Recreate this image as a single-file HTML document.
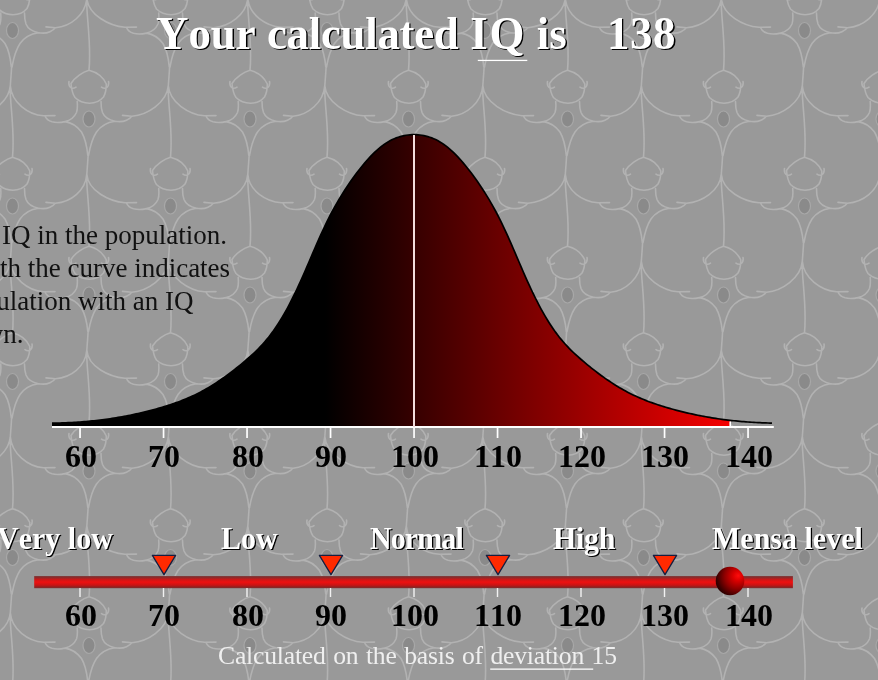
<!DOCTYPE html>
<html><head><meta charset="utf-8"><title>IQ</title>
<style>
html,body{margin:0;padding:0}
body{width:878px;height:680px;overflow:hidden;position:relative;background:#999;font-family:"Liberation Serif",serif;font-kerning:none;font-variant-ligatures:none}
div{will-change:transform}
svg{position:absolute;left:0;top:0}
.t{position:absolute;white-space:nowrap;font-weight:bold;color:#fff;text-shadow:1.3px 1.3px 0 #000}
.title{font-size:44.9px;top:7.6px;line-height:52px;transform:scaleY(1.04);transform-origin:0 41.2px}
.lab{font-size:30px;top:520.9px;line-height:36px;transform:scaleY(1.067);transform-origin:0 28px}
.n{position:absolute;width:80px;text-align:center;font-weight:bold;font-size:32px;line-height:34px;color:#000;white-space:nowrap}
.p{position:absolute;white-space:nowrap;font-size:27px;line-height:34px;color:#111}
.c{position:absolute;white-space:nowrap;font-size:25.65px;line-height:30px;color:#efefef;word-spacing:1.3px;letter-spacing:-0.2px}
</style></head><body>
<svg width="878" height="680" viewBox="0 0 878 680">
<defs>
<linearGradient id="g" gradientUnits="userSpaceOnUse" x1="325" y1="0" x2="731" y2="0"><stop offset="0" stop-color="#000"/><stop offset="1" stop-color="#f60000"/></linearGradient>
<linearGradient id="bar" x1="0" y1="0" x2="0" y2="1"><stop offset="0" stop-color="#7c4040"/><stop offset="0.12" stop-color="#8e2a2a"/><stop offset="0.28" stop-color="#c81818"/><stop offset="0.5" stop-color="#ee1010"/><stop offset="0.75" stop-color="#c81414"/><stop offset="0.9" stop-color="#922020"/><stop offset="1" stop-color="#7a3030"/></linearGradient>
<radialGradient id="ball" cx="0.72" cy="0.36" r="0.8" fx="0.79" fy="0.31"><stop offset="0" stop-color="#ff0c0c"/><stop offset="0.22" stop-color="#da0000"/><stop offset="0.55" stop-color="#8e0000"/><stop offset="0.85" stop-color="#3c0000"/><stop offset="1" stop-color="#1e0000"/></radialGradient>
</defs>
<g><path d="M12.5,-18.2C6.5,-16.5 -1.5,-11.5 -5.5,-5.0C-5.0,0.5 -4.0,5.5 -1.5,9.0C2.5,13.0 7.5,14.7 13.0,14.7C18.5,14.7 23.5,12.7 27.0,8.5C29.0,5.0 29.8,0.5 29.8,-4.5C26.5,-11.5 19.5,-16.5 12.5,-18.2M-7.5,-7.0C-8.0,-4.0 -7.0,-1.5 -5.0,-0.5C-3.5,0.0 -2.0,-0.3 -0.5,-1.3M32.0,-7.0C32.5,-4.0 31.5,-1.5 29.5,-0.5C28.0,0.0 26.5,-0.3 25.0,-1.3M0.7,13.0C1.0,17.5 1.3,20.5 0.0,24.0C-2.5,29.5 -6.5,32.0 -11.5,33.1C-15.5,34.0 -20.5,34.3 -24.5,33.3C-28.0,32.3 -30.5,30.0 -31.5,27.5M24.5,13.0C24.5,17.5 24.7,20.5 26.0,24.0C28.0,29.0 32.5,31.5 38.5,32.7C42.5,33.5 46.5,33.3 50.0,31.7C52.5,30.5 54.3,29.3 55.1,27.9M-11.5,33.1C-5.5,34.0 0.5,37.5 5.0,43.5C8.5,49.5 10.5,58.5 11.3,67.0M38.5,32.7C31.5,33.7 24.5,37.0 20.0,43.5C16.0,49.5 13.5,58.5 12.0,67.0M11.6,66.5C11.3,74.5 10.5,81.5 10.2,88.0C10.0,105.5 15.0,131.0 12.5,157.3M46.0,26.9L55.5,27.7C70.5,26.5 85.6,15.0 86.8,-2.0M-21.5,27.1L-33.0,27.3C-48.5,26.0 -70.0,15.0 -71.2,-2.0M170.5,-18.2C164.5,-16.5 156.5,-11.5 152.5,-5.0C153.0,0.5 154.0,5.5 156.5,9.0C160.5,13.0 165.5,14.7 171.0,14.7C176.5,14.7 181.5,12.7 185.0,8.5C187.0,5.0 187.8,0.5 187.8,-4.5C184.5,-11.5 177.5,-16.5 170.5,-18.2M150.5,-7.0C150.0,-4.0 151.0,-1.5 153.0,-0.5C154.5,0.0 156.0,-0.3 157.5,-1.3M190.0,-7.0C190.5,-4.0 189.5,-1.5 187.5,-0.5C186.0,0.0 184.5,-0.3 183.0,-1.3M158.7,13.0C159.0,17.5 159.3,20.5 158.0,24.0C155.5,29.5 151.5,32.0 146.5,33.1C142.5,34.0 137.5,34.3 133.5,33.3C130.0,32.3 127.5,30.0 126.5,27.5M182.5,13.0C182.5,17.5 182.7,20.5 184.0,24.0C186.0,29.0 190.5,31.5 196.5,32.7C200.5,33.5 204.5,33.3 208.0,31.7C210.5,30.5 212.3,29.3 213.1,27.9M146.5,33.1C152.5,34.0 158.5,37.5 163.0,43.5C166.5,49.5 168.5,58.5 169.3,67.0M196.5,32.7C189.5,33.7 182.5,37.0 178.0,43.5C174.0,49.5 171.5,58.5 170.0,67.0M169.6,66.5C169.3,74.5 168.5,81.5 168.2,88.0C168.0,105.5 173.0,131.0 170.5,157.3M204.0,26.9L213.5,27.7C228.5,26.5 246.6,15.0 247.8,-2.0M136.5,27.1L125.0,27.3C109.5,26.0 88.0,15.0 86.8,-2.0M327.0,-18.2C321.0,-16.5 313.0,-11.5 309.0,-5.0C309.5,0.5 310.5,5.5 313.0,9.0C317.0,13.0 322.0,14.7 327.5,14.7C333.0,14.7 338.0,12.7 341.5,8.5C343.5,5.0 344.3,0.5 344.3,-4.5C341.0,-11.5 334.0,-16.5 327.0,-18.2M307.0,-7.0C306.5,-4.0 307.5,-1.5 309.5,-0.5C311.0,0.0 312.5,-0.3 314.0,-1.3M346.5,-7.0C347.0,-4.0 346.0,-1.5 344.0,-0.5C342.5,0.0 341.0,-0.3 339.5,-1.3M315.2,13.0C315.5,17.5 315.8,20.5 314.5,24.0C312.0,29.5 308.0,32.0 303.0,33.1C299.0,34.0 294.0,34.3 290.0,33.3C286.5,32.3 284.0,30.0 283.0,27.5M339.0,13.0C339.0,17.5 339.2,20.5 340.5,24.0C342.5,29.0 347.0,31.5 353.0,32.7C357.0,33.5 361.0,33.3 364.5,31.7C367.0,30.5 368.8,29.3 369.6,27.9M303.0,33.1C309.0,34.0 315.0,37.5 319.5,43.5C323.0,49.5 325.0,58.5 325.8,67.0M353.0,32.7C346.0,33.7 339.0,37.0 334.5,43.5C330.5,49.5 328.0,58.5 326.5,67.0M326.1,66.5C325.8,74.5 325.0,81.5 324.7,88.0C324.5,105.5 329.5,131.0 327.0,157.3M360.5,26.9L370.0,27.7C385.0,26.5 405.1,15.0 406.3,-2.0M293.0,27.1L281.5,27.3C266.0,26.0 249.0,15.0 247.8,-2.0M485.0,-18.2C479.0,-16.5 471.0,-11.5 467.0,-5.0C467.5,0.5 468.5,5.5 471.0,9.0C475.0,13.0 480.0,14.7 485.5,14.7C491.0,14.7 496.0,12.7 499.5,8.5C501.5,5.0 502.3,0.5 502.3,-4.5C499.0,-11.5 492.0,-16.5 485.0,-18.2M465.0,-7.0C464.5,-4.0 465.5,-1.5 467.5,-0.5C469.0,0.0 470.5,-0.3 472.0,-1.3M504.5,-7.0C505.0,-4.0 504.0,-1.5 502.0,-0.5C500.5,0.0 499.0,-0.3 497.5,-1.3M473.2,13.0C473.5,17.5 473.8,20.5 472.5,24.0C470.0,29.5 466.0,32.0 461.0,33.1C457.0,34.0 452.0,34.3 448.0,33.3C444.5,32.3 442.0,30.0 441.0,27.5M497.0,13.0C497.0,17.5 497.2,20.5 498.5,24.0C500.5,29.0 505.0,31.5 511.0,32.7C515.0,33.5 519.0,33.3 522.5,31.7C525.0,30.5 526.8,29.3 527.6,27.9M461.0,33.1C467.0,34.0 473.0,37.5 477.5,43.5C481.0,49.5 483.0,58.5 483.8,67.0M511.0,32.7C504.0,33.7 497.0,37.0 492.5,43.5C488.5,49.5 486.0,58.5 484.5,67.0M484.1,66.5C483.8,74.5 483.0,81.5 482.7,88.0C482.5,105.5 487.5,131.0 485.0,157.3M518.5,26.9L528.0,27.7C543.0,26.5 564.1,15.0 565.3,-2.0M451.0,27.1L439.5,27.3C424.0,26.0 407.5,15.0 406.3,-2.0M643.5,-18.2C637.5,-16.5 629.5,-11.5 625.5,-5.0C626.0,0.5 627.0,5.5 629.5,9.0C633.5,13.0 638.5,14.7 644.0,14.7C649.5,14.7 654.5,12.7 658.0,8.5C660.0,5.0 660.8,0.5 660.8,-4.5C657.5,-11.5 650.5,-16.5 643.5,-18.2M623.5,-7.0C623.0,-4.0 624.0,-1.5 626.0,-0.5C627.5,0.0 629.0,-0.3 630.5,-1.3M663.0,-7.0C663.5,-4.0 662.5,-1.5 660.5,-0.5C659.0,0.0 657.5,-0.3 656.0,-1.3M631.7,13.0C632.0,17.5 632.3,20.5 631.0,24.0C628.5,29.5 624.5,32.0 619.5,33.1C615.5,34.0 610.5,34.3 606.5,33.3C603.0,32.3 600.5,30.0 599.5,27.5M655.5,13.0C655.5,17.5 655.7,20.5 657.0,24.0C659.0,29.0 663.5,31.5 669.5,32.7C673.5,33.5 677.5,33.3 681.0,31.7C683.5,30.5 685.3,29.3 686.1,27.9M619.5,33.1C625.5,34.0 631.5,37.5 636.0,43.5C639.5,49.5 641.5,58.5 642.3,67.0M669.5,32.7C662.5,33.7 655.5,37.0 651.0,43.5C647.0,49.5 644.5,58.5 643.0,67.0M642.6,66.5C642.3,74.5 641.5,81.5 641.2,88.0C641.0,105.5 646.0,131.0 643.5,157.3M677.0,26.9L686.5,27.7C701.5,26.5 720.1,15.0 721.3,-2.0M609.5,27.1L598.0,27.3C582.5,26.0 566.5,15.0 565.3,-2.0M804.5,-18.2C798.5,-16.5 790.5,-11.5 786.5,-5.0C787.0,0.5 788.0,5.5 790.5,9.0C794.5,13.0 799.5,14.7 805.0,14.7C810.5,14.7 815.5,12.7 819.0,8.5C821.0,5.0 821.8,0.5 821.8,-4.5C818.5,-11.5 811.5,-16.5 804.5,-18.2M784.5,-7.0C784.0,-4.0 785.0,-1.5 787.0,-0.5C788.5,0.0 790.0,-0.3 791.5,-1.3M824.0,-7.0C824.5,-4.0 823.5,-1.5 821.5,-0.5C820.0,0.0 818.5,-0.3 817.0,-1.3M792.7,13.0C793.0,17.5 793.3,20.5 792.0,24.0C789.5,29.5 785.5,32.0 780.5,33.1C776.5,34.0 771.5,34.3 767.5,33.3C764.0,32.3 761.5,30.0 760.5,27.5M816.5,13.0C816.5,17.5 816.7,20.5 818.0,24.0C820.0,29.0 824.5,31.5 830.5,32.7C834.5,33.5 838.5,33.3 842.0,31.7C844.5,30.5 846.3,29.3 847.1,27.9M780.5,33.1C786.5,34.0 792.5,37.5 797.0,43.5C800.5,49.5 802.5,58.5 803.3,67.0M830.5,32.7C823.5,33.7 816.5,37.0 812.0,43.5C808.0,49.5 805.5,58.5 804.0,67.0M803.6,66.5C803.3,74.5 802.5,81.5 802.2,88.0C802.0,105.5 807.0,131.0 804.5,157.3M838.0,26.9L847.5,27.7C862.5,26.5 878.6,15.0 879.8,-2.0M770.5,27.1L759.0,27.3C743.5,26.0 722.5,15.0 721.3,-2.0M963.0,-18.2C957.0,-16.5 949.0,-11.5 945.0,-5.0C945.5,0.5 946.5,5.5 949.0,9.0C953.0,13.0 958.0,14.7 963.5,14.7C969.0,14.7 974.0,12.7 977.5,8.5C979.5,5.0 980.3,0.5 980.3,-4.5C977.0,-11.5 970.0,-16.5 963.0,-18.2M943.0,-7.0C942.5,-4.0 943.5,-1.5 945.5,-0.5C947.0,0.0 948.5,-0.3 950.0,-1.3M982.5,-7.0C983.0,-4.0 982.0,-1.5 980.0,-0.5C978.5,0.0 977.0,-0.3 975.5,-1.3M951.2,13.0C951.5,17.5 951.8,20.5 950.5,24.0C948.0,29.5 944.0,32.0 939.0,33.1C935.0,34.0 930.0,34.3 926.0,33.3C922.5,32.3 920.0,30.0 919.0,27.5M975.0,13.0C975.0,17.5 975.2,20.5 976.5,24.0C978.5,29.0 983.0,31.5 989.0,32.7C993.0,33.5 997.0,33.3 1000.5,31.7C1003.0,30.5 1004.8,29.3 1005.6,27.9M939.0,33.1C945.0,34.0 951.0,37.5 955.5,43.5C959.0,49.5 961.0,58.5 961.8,67.0M989.0,32.7C982.0,33.7 975.0,37.0 970.5,43.5C966.5,49.5 964.0,58.5 962.5,67.0M962.1,66.5C961.8,74.5 961.0,81.5 960.7,88.0C960.5,105.5 965.5,131.0 963.0,157.3M996.5,26.9L1006.0,27.7C1021.0,26.5 1037.6,15.0 1038.8,-2.0M929.0,27.1L917.5,27.3C902.0,26.0 881.0,15.0 879.8,-2.0M12.5,157.3C6.5,159.0 -1.5,164.0 -5.5,170.5C-5.0,176.0 -4.0,181.0 -1.5,184.5C2.5,188.5 7.5,190.2 13.0,190.2C18.5,190.2 23.5,188.2 27.0,184.0C29.0,180.5 29.8,176.0 29.8,171.0C26.5,164.0 19.5,159.0 12.5,157.3M-7.5,168.5C-8.0,171.5 -7.0,174.0 -5.0,175.0C-3.5,175.5 -2.0,175.2 -0.5,174.2M32.0,168.5C32.5,171.5 31.5,174.0 29.5,175.0C28.0,175.5 26.5,175.2 25.0,174.2M0.7,188.5C1.0,193.0 1.3,196.0 0.0,199.5C-2.5,205.0 -6.5,207.5 -11.5,208.6C-15.5,209.5 -20.5,209.8 -24.5,208.8C-28.0,207.8 -30.5,205.5 -31.5,203.0M24.5,188.5C24.5,193.0 24.7,196.0 26.0,199.5C28.0,204.5 32.5,207.0 38.5,208.2C42.5,209.0 46.5,208.8 50.0,207.2C52.5,206.0 54.3,204.8 55.1,203.4M-11.5,208.6C-5.5,209.5 0.5,213.0 5.0,219.0C8.5,225.0 10.5,234.0 11.3,242.5M38.5,208.2C31.5,209.2 24.5,212.5 20.0,219.0C16.0,225.0 13.5,234.0 12.0,242.5M11.6,242.0C11.3,250.0 10.5,257.0 10.2,263.5C10.0,281.0 15.0,306.5 12.5,332.8M46.0,202.4L55.5,203.2C70.5,202.0 85.6,191.0 86.8,174.0M-21.5,202.6L-33.0,202.8C-48.5,201.5 -70.0,191.0 -71.2,174.0M170.5,157.3C164.5,159.0 156.5,164.0 152.5,170.5C153.0,176.0 154.0,181.0 156.5,184.5C160.5,188.5 165.5,190.2 171.0,190.2C176.5,190.2 181.5,188.2 185.0,184.0C187.0,180.5 187.8,176.0 187.8,171.0C184.5,164.0 177.5,159.0 170.5,157.3M150.5,168.5C150.0,171.5 151.0,174.0 153.0,175.0C154.5,175.5 156.0,175.2 157.5,174.2M190.0,168.5C190.5,171.5 189.5,174.0 187.5,175.0C186.0,175.5 184.5,175.2 183.0,174.2M158.7,188.5C159.0,193.0 159.3,196.0 158.0,199.5C155.5,205.0 151.5,207.5 146.5,208.6C142.5,209.5 137.5,209.8 133.5,208.8C130.0,207.8 127.5,205.5 126.5,203.0M182.5,188.5C182.5,193.0 182.7,196.0 184.0,199.5C186.0,204.5 190.5,207.0 196.5,208.2C200.5,209.0 204.5,208.8 208.0,207.2C210.5,206.0 212.3,204.8 213.1,203.4M146.5,208.6C152.5,209.5 158.5,213.0 163.0,219.0C166.5,225.0 168.5,234.0 169.3,242.5M196.5,208.2C189.5,209.2 182.5,212.5 178.0,219.0C174.0,225.0 171.5,234.0 170.0,242.5M169.6,242.0C169.3,250.0 168.5,257.0 168.2,263.5C168.0,281.0 173.0,306.5 170.5,332.8M204.0,202.4L213.5,203.2C228.5,202.0 246.6,191.0 247.8,174.0M136.5,202.6L125.0,202.8C109.5,201.5 88.0,191.0 86.8,174.0M327.0,157.3C321.0,159.0 313.0,164.0 309.0,170.5C309.5,176.0 310.5,181.0 313.0,184.5C317.0,188.5 322.0,190.2 327.5,190.2C333.0,190.2 338.0,188.2 341.5,184.0C343.5,180.5 344.3,176.0 344.3,171.0C341.0,164.0 334.0,159.0 327.0,157.3M307.0,168.5C306.5,171.5 307.5,174.0 309.5,175.0C311.0,175.5 312.5,175.2 314.0,174.2M346.5,168.5C347.0,171.5 346.0,174.0 344.0,175.0C342.5,175.5 341.0,175.2 339.5,174.2M315.2,188.5C315.5,193.0 315.8,196.0 314.5,199.5C312.0,205.0 308.0,207.5 303.0,208.6C299.0,209.5 294.0,209.8 290.0,208.8C286.5,207.8 284.0,205.5 283.0,203.0M339.0,188.5C339.0,193.0 339.2,196.0 340.5,199.5C342.5,204.5 347.0,207.0 353.0,208.2C357.0,209.0 361.0,208.8 364.5,207.2C367.0,206.0 368.8,204.8 369.6,203.4M303.0,208.6C309.0,209.5 315.0,213.0 319.5,219.0C323.0,225.0 325.0,234.0 325.8,242.5M353.0,208.2C346.0,209.2 339.0,212.5 334.5,219.0C330.5,225.0 328.0,234.0 326.5,242.5M326.1,242.0C325.8,250.0 325.0,257.0 324.7,263.5C324.5,281.0 329.5,306.5 327.0,332.8M360.5,202.4L370.0,203.2C385.0,202.0 405.1,191.0 406.3,174.0M293.0,202.6L281.5,202.8C266.0,201.5 249.0,191.0 247.8,174.0M485.0,157.3C479.0,159.0 471.0,164.0 467.0,170.5C467.5,176.0 468.5,181.0 471.0,184.5C475.0,188.5 480.0,190.2 485.5,190.2C491.0,190.2 496.0,188.2 499.5,184.0C501.5,180.5 502.3,176.0 502.3,171.0C499.0,164.0 492.0,159.0 485.0,157.3M465.0,168.5C464.5,171.5 465.5,174.0 467.5,175.0C469.0,175.5 470.5,175.2 472.0,174.2M504.5,168.5C505.0,171.5 504.0,174.0 502.0,175.0C500.5,175.5 499.0,175.2 497.5,174.2M473.2,188.5C473.5,193.0 473.8,196.0 472.5,199.5C470.0,205.0 466.0,207.5 461.0,208.6C457.0,209.5 452.0,209.8 448.0,208.8C444.5,207.8 442.0,205.5 441.0,203.0M497.0,188.5C497.0,193.0 497.2,196.0 498.5,199.5C500.5,204.5 505.0,207.0 511.0,208.2C515.0,209.0 519.0,208.8 522.5,207.2C525.0,206.0 526.8,204.8 527.6,203.4M461.0,208.6C467.0,209.5 473.0,213.0 477.5,219.0C481.0,225.0 483.0,234.0 483.8,242.5M511.0,208.2C504.0,209.2 497.0,212.5 492.5,219.0C488.5,225.0 486.0,234.0 484.5,242.5M484.1,242.0C483.8,250.0 483.0,257.0 482.7,263.5C482.5,281.0 487.5,306.5 485.0,332.8M518.5,202.4L528.0,203.2C543.0,202.0 564.1,191.0 565.3,174.0M451.0,202.6L439.5,202.8C424.0,201.5 407.5,191.0 406.3,174.0M643.5,157.3C637.5,159.0 629.5,164.0 625.5,170.5C626.0,176.0 627.0,181.0 629.5,184.5C633.5,188.5 638.5,190.2 644.0,190.2C649.5,190.2 654.5,188.2 658.0,184.0C660.0,180.5 660.8,176.0 660.8,171.0C657.5,164.0 650.5,159.0 643.5,157.3M623.5,168.5C623.0,171.5 624.0,174.0 626.0,175.0C627.5,175.5 629.0,175.2 630.5,174.2M663.0,168.5C663.5,171.5 662.5,174.0 660.5,175.0C659.0,175.5 657.5,175.2 656.0,174.2M631.7,188.5C632.0,193.0 632.3,196.0 631.0,199.5C628.5,205.0 624.5,207.5 619.5,208.6C615.5,209.5 610.5,209.8 606.5,208.8C603.0,207.8 600.5,205.5 599.5,203.0M655.5,188.5C655.5,193.0 655.7,196.0 657.0,199.5C659.0,204.5 663.5,207.0 669.5,208.2C673.5,209.0 677.5,208.8 681.0,207.2C683.5,206.0 685.3,204.8 686.1,203.4M619.5,208.6C625.5,209.5 631.5,213.0 636.0,219.0C639.5,225.0 641.5,234.0 642.3,242.5M669.5,208.2C662.5,209.2 655.5,212.5 651.0,219.0C647.0,225.0 644.5,234.0 643.0,242.5M642.6,242.0C642.3,250.0 641.5,257.0 641.2,263.5C641.0,281.0 646.0,306.5 643.5,332.8M677.0,202.4L686.5,203.2C701.5,202.0 720.1,191.0 721.3,174.0M609.5,202.6L598.0,202.8C582.5,201.5 566.5,191.0 565.3,174.0M804.5,157.3C798.5,159.0 790.5,164.0 786.5,170.5C787.0,176.0 788.0,181.0 790.5,184.5C794.5,188.5 799.5,190.2 805.0,190.2C810.5,190.2 815.5,188.2 819.0,184.0C821.0,180.5 821.8,176.0 821.8,171.0C818.5,164.0 811.5,159.0 804.5,157.3M784.5,168.5C784.0,171.5 785.0,174.0 787.0,175.0C788.5,175.5 790.0,175.2 791.5,174.2M824.0,168.5C824.5,171.5 823.5,174.0 821.5,175.0C820.0,175.5 818.5,175.2 817.0,174.2M792.7,188.5C793.0,193.0 793.3,196.0 792.0,199.5C789.5,205.0 785.5,207.5 780.5,208.6C776.5,209.5 771.5,209.8 767.5,208.8C764.0,207.8 761.5,205.5 760.5,203.0M816.5,188.5C816.5,193.0 816.7,196.0 818.0,199.5C820.0,204.5 824.5,207.0 830.5,208.2C834.5,209.0 838.5,208.8 842.0,207.2C844.5,206.0 846.3,204.8 847.1,203.4M780.5,208.6C786.5,209.5 792.5,213.0 797.0,219.0C800.5,225.0 802.5,234.0 803.3,242.5M830.5,208.2C823.5,209.2 816.5,212.5 812.0,219.0C808.0,225.0 805.5,234.0 804.0,242.5M803.6,242.0C803.3,250.0 802.5,257.0 802.2,263.5C802.0,281.0 807.0,306.5 804.5,332.8M838.0,202.4L847.5,203.2C862.5,202.0 878.6,191.0 879.8,174.0M770.5,202.6L759.0,202.8C743.5,201.5 722.5,191.0 721.3,174.0M963.0,157.3C957.0,159.0 949.0,164.0 945.0,170.5C945.5,176.0 946.5,181.0 949.0,184.5C953.0,188.5 958.0,190.2 963.5,190.2C969.0,190.2 974.0,188.2 977.5,184.0C979.5,180.5 980.3,176.0 980.3,171.0C977.0,164.0 970.0,159.0 963.0,157.3M943.0,168.5C942.5,171.5 943.5,174.0 945.5,175.0C947.0,175.5 948.5,175.2 950.0,174.2M982.5,168.5C983.0,171.5 982.0,174.0 980.0,175.0C978.5,175.5 977.0,175.2 975.5,174.2M951.2,188.5C951.5,193.0 951.8,196.0 950.5,199.5C948.0,205.0 944.0,207.5 939.0,208.6C935.0,209.5 930.0,209.8 926.0,208.8C922.5,207.8 920.0,205.5 919.0,203.0M975.0,188.5C975.0,193.0 975.2,196.0 976.5,199.5C978.5,204.5 983.0,207.0 989.0,208.2C993.0,209.0 997.0,208.8 1000.5,207.2C1003.0,206.0 1004.8,204.8 1005.6,203.4M939.0,208.6C945.0,209.5 951.0,213.0 955.5,219.0C959.0,225.0 961.0,234.0 961.8,242.5M989.0,208.2C982.0,209.2 975.0,212.5 970.5,219.0C966.5,225.0 964.0,234.0 962.5,242.5M962.1,242.0C961.8,250.0 961.0,257.0 960.7,263.5C960.5,281.0 965.5,306.5 963.0,332.8M996.5,202.4L1006.0,203.2C1021.0,202.0 1037.6,191.0 1038.8,174.0M929.0,202.6L917.5,202.8C902.0,201.5 881.0,191.0 879.8,174.0M12.5,332.8C6.5,334.5 -1.5,339.5 -5.5,346.0C-5.0,351.5 -4.0,356.5 -1.5,360.0C2.5,364.0 7.5,365.7 13.0,365.7C18.5,365.7 23.5,363.7 27.0,359.5C29.0,356.0 29.8,351.5 29.8,346.5C26.5,339.5 19.5,334.5 12.5,332.8M-7.5,344.0C-8.0,347.0 -7.0,349.5 -5.0,350.5C-3.5,351.0 -2.0,350.7 -0.5,349.7M32.0,344.0C32.5,347.0 31.5,349.5 29.5,350.5C28.0,351.0 26.5,350.7 25.0,349.7M0.7,364.0C1.0,368.5 1.3,371.5 0.0,375.0C-2.5,380.5 -6.5,383.0 -11.5,384.1C-15.5,385.0 -20.5,385.3 -24.5,384.3C-28.0,383.3 -30.5,381.0 -31.5,378.5M24.5,364.0C24.5,368.5 24.7,371.5 26.0,375.0C28.0,380.0 32.5,382.5 38.5,383.7C42.5,384.5 46.5,384.3 50.0,382.7C52.5,381.5 54.3,380.3 55.1,378.9M-11.5,384.1C-5.5,385.0 0.5,388.5 5.0,394.5C8.5,400.5 10.5,409.5 11.3,418.0M38.5,383.7C31.5,384.7 24.5,388.0 20.0,394.5C16.0,400.5 13.5,409.5 12.0,418.0M11.6,417.5C11.3,425.5 10.5,432.5 10.2,439.0C10.0,456.5 15.0,482.5 12.5,508.8M46.0,377.9L55.5,378.7C70.5,377.5 85.6,367.0 86.8,350.0M-21.5,378.1L-33.0,378.3C-48.5,377.0 -70.0,367.0 -71.2,350.0M170.5,332.8C164.5,334.5 156.5,339.5 152.5,346.0C153.0,351.5 154.0,356.5 156.5,360.0C160.5,364.0 165.5,365.7 171.0,365.7C176.5,365.7 181.5,363.7 185.0,359.5C187.0,356.0 187.8,351.5 187.8,346.5C184.5,339.5 177.5,334.5 170.5,332.8M150.5,344.0C150.0,347.0 151.0,349.5 153.0,350.5C154.5,351.0 156.0,350.7 157.5,349.7M190.0,344.0C190.5,347.0 189.5,349.5 187.5,350.5C186.0,351.0 184.5,350.7 183.0,349.7M158.7,364.0C159.0,368.5 159.3,371.5 158.0,375.0C155.5,380.5 151.5,383.0 146.5,384.1C142.5,385.0 137.5,385.3 133.5,384.3C130.0,383.3 127.5,381.0 126.5,378.5M182.5,364.0C182.5,368.5 182.7,371.5 184.0,375.0C186.0,380.0 190.5,382.5 196.5,383.7C200.5,384.5 204.5,384.3 208.0,382.7C210.5,381.5 212.3,380.3 213.1,378.9M146.5,384.1C152.5,385.0 158.5,388.5 163.0,394.5C166.5,400.5 168.5,409.5 169.3,418.0M196.5,383.7C189.5,384.7 182.5,388.0 178.0,394.5C174.0,400.5 171.5,409.5 170.0,418.0M169.6,417.5C169.3,425.5 168.5,432.5 168.2,439.0C168.0,456.5 173.0,482.5 170.5,508.8M204.0,377.9L213.5,378.7C228.5,377.5 246.6,367.0 247.8,350.0M136.5,378.1L125.0,378.3C109.5,377.0 88.0,367.0 86.8,350.0M327.0,332.8C321.0,334.5 313.0,339.5 309.0,346.0C309.5,351.5 310.5,356.5 313.0,360.0C317.0,364.0 322.0,365.7 327.5,365.7C333.0,365.7 338.0,363.7 341.5,359.5C343.5,356.0 344.3,351.5 344.3,346.5C341.0,339.5 334.0,334.5 327.0,332.8M307.0,344.0C306.5,347.0 307.5,349.5 309.5,350.5C311.0,351.0 312.5,350.7 314.0,349.7M346.5,344.0C347.0,347.0 346.0,349.5 344.0,350.5C342.5,351.0 341.0,350.7 339.5,349.7M315.2,364.0C315.5,368.5 315.8,371.5 314.5,375.0C312.0,380.5 308.0,383.0 303.0,384.1C299.0,385.0 294.0,385.3 290.0,384.3C286.5,383.3 284.0,381.0 283.0,378.5M339.0,364.0C339.0,368.5 339.2,371.5 340.5,375.0C342.5,380.0 347.0,382.5 353.0,383.7C357.0,384.5 361.0,384.3 364.5,382.7C367.0,381.5 368.8,380.3 369.6,378.9M303.0,384.1C309.0,385.0 315.0,388.5 319.5,394.5C323.0,400.5 325.0,409.5 325.8,418.0M353.0,383.7C346.0,384.7 339.0,388.0 334.5,394.5C330.5,400.5 328.0,409.5 326.5,418.0M326.1,417.5C325.8,425.5 325.0,432.5 324.7,439.0C324.5,456.5 329.5,482.5 327.0,508.8M360.5,377.9L370.0,378.7C385.0,377.5 405.1,367.0 406.3,350.0M293.0,378.1L281.5,378.3C266.0,377.0 249.0,367.0 247.8,350.0M485.0,332.8C479.0,334.5 471.0,339.5 467.0,346.0C467.5,351.5 468.5,356.5 471.0,360.0C475.0,364.0 480.0,365.7 485.5,365.7C491.0,365.7 496.0,363.7 499.5,359.5C501.5,356.0 502.3,351.5 502.3,346.5C499.0,339.5 492.0,334.5 485.0,332.8M465.0,344.0C464.5,347.0 465.5,349.5 467.5,350.5C469.0,351.0 470.5,350.7 472.0,349.7M504.5,344.0C505.0,347.0 504.0,349.5 502.0,350.5C500.5,351.0 499.0,350.7 497.5,349.7M473.2,364.0C473.5,368.5 473.8,371.5 472.5,375.0C470.0,380.5 466.0,383.0 461.0,384.1C457.0,385.0 452.0,385.3 448.0,384.3C444.5,383.3 442.0,381.0 441.0,378.5M497.0,364.0C497.0,368.5 497.2,371.5 498.5,375.0C500.5,380.0 505.0,382.5 511.0,383.7C515.0,384.5 519.0,384.3 522.5,382.7C525.0,381.5 526.8,380.3 527.6,378.9M461.0,384.1C467.0,385.0 473.0,388.5 477.5,394.5C481.0,400.5 483.0,409.5 483.8,418.0M511.0,383.7C504.0,384.7 497.0,388.0 492.5,394.5C488.5,400.5 486.0,409.5 484.5,418.0M484.1,417.5C483.8,425.5 483.0,432.5 482.7,439.0C482.5,456.5 487.5,482.5 485.0,508.8M518.5,377.9L528.0,378.7C543.0,377.5 564.1,367.0 565.3,350.0M451.0,378.1L439.5,378.3C424.0,377.0 407.5,367.0 406.3,350.0M643.5,332.8C637.5,334.5 629.5,339.5 625.5,346.0C626.0,351.5 627.0,356.5 629.5,360.0C633.5,364.0 638.5,365.7 644.0,365.7C649.5,365.7 654.5,363.7 658.0,359.5C660.0,356.0 660.8,351.5 660.8,346.5C657.5,339.5 650.5,334.5 643.5,332.8M623.5,344.0C623.0,347.0 624.0,349.5 626.0,350.5C627.5,351.0 629.0,350.7 630.5,349.7M663.0,344.0C663.5,347.0 662.5,349.5 660.5,350.5C659.0,351.0 657.5,350.7 656.0,349.7M631.7,364.0C632.0,368.5 632.3,371.5 631.0,375.0C628.5,380.5 624.5,383.0 619.5,384.1C615.5,385.0 610.5,385.3 606.5,384.3C603.0,383.3 600.5,381.0 599.5,378.5M655.5,364.0C655.5,368.5 655.7,371.5 657.0,375.0C659.0,380.0 663.5,382.5 669.5,383.7C673.5,384.5 677.5,384.3 681.0,382.7C683.5,381.5 685.3,380.3 686.1,378.9M619.5,384.1C625.5,385.0 631.5,388.5 636.0,394.5C639.5,400.5 641.5,409.5 642.3,418.0M669.5,383.7C662.5,384.7 655.5,388.0 651.0,394.5C647.0,400.5 644.5,409.5 643.0,418.0M642.6,417.5C642.3,425.5 641.5,432.5 641.2,439.0C641.0,456.5 646.0,482.5 643.5,508.8M677.0,377.9L686.5,378.7C701.5,377.5 720.1,367.0 721.3,350.0M609.5,378.1L598.0,378.3C582.5,377.0 566.5,367.0 565.3,350.0M804.5,332.8C798.5,334.5 790.5,339.5 786.5,346.0C787.0,351.5 788.0,356.5 790.5,360.0C794.5,364.0 799.5,365.7 805.0,365.7C810.5,365.7 815.5,363.7 819.0,359.5C821.0,356.0 821.8,351.5 821.8,346.5C818.5,339.5 811.5,334.5 804.5,332.8M784.5,344.0C784.0,347.0 785.0,349.5 787.0,350.5C788.5,351.0 790.0,350.7 791.5,349.7M824.0,344.0C824.5,347.0 823.5,349.5 821.5,350.5C820.0,351.0 818.5,350.7 817.0,349.7M792.7,364.0C793.0,368.5 793.3,371.5 792.0,375.0C789.5,380.5 785.5,383.0 780.5,384.1C776.5,385.0 771.5,385.3 767.5,384.3C764.0,383.3 761.5,381.0 760.5,378.5M816.5,364.0C816.5,368.5 816.7,371.5 818.0,375.0C820.0,380.0 824.5,382.5 830.5,383.7C834.5,384.5 838.5,384.3 842.0,382.7C844.5,381.5 846.3,380.3 847.1,378.9M780.5,384.1C786.5,385.0 792.5,388.5 797.0,394.5C800.5,400.5 802.5,409.5 803.3,418.0M830.5,383.7C823.5,384.7 816.5,388.0 812.0,394.5C808.0,400.5 805.5,409.5 804.0,418.0M803.6,417.5C803.3,425.5 802.5,432.5 802.2,439.0C802.0,456.5 807.0,482.5 804.5,508.8M838.0,377.9L847.5,378.7C862.5,377.5 878.6,367.0 879.8,350.0M770.5,378.1L759.0,378.3C743.5,377.0 722.5,367.0 721.3,350.0M963.0,332.8C957.0,334.5 949.0,339.5 945.0,346.0C945.5,351.5 946.5,356.5 949.0,360.0C953.0,364.0 958.0,365.7 963.5,365.7C969.0,365.7 974.0,363.7 977.5,359.5C979.5,356.0 980.3,351.5 980.3,346.5C977.0,339.5 970.0,334.5 963.0,332.8M943.0,344.0C942.5,347.0 943.5,349.5 945.5,350.5C947.0,351.0 948.5,350.7 950.0,349.7M982.5,344.0C983.0,347.0 982.0,349.5 980.0,350.5C978.5,351.0 977.0,350.7 975.5,349.7M951.2,364.0C951.5,368.5 951.8,371.5 950.5,375.0C948.0,380.5 944.0,383.0 939.0,384.1C935.0,385.0 930.0,385.3 926.0,384.3C922.5,383.3 920.0,381.0 919.0,378.5M975.0,364.0C975.0,368.5 975.2,371.5 976.5,375.0C978.5,380.0 983.0,382.5 989.0,383.7C993.0,384.5 997.0,384.3 1000.5,382.7C1003.0,381.5 1004.8,380.3 1005.6,378.9M939.0,384.1C945.0,385.0 951.0,388.5 955.5,394.5C959.0,400.5 961.0,409.5 961.8,418.0M989.0,383.7C982.0,384.7 975.0,388.0 970.5,394.5C966.5,400.5 964.0,409.5 962.5,418.0M962.1,417.5C961.8,425.5 961.0,432.5 960.7,439.0C960.5,456.5 965.5,482.5 963.0,508.8M996.5,377.9L1006.0,378.7C1021.0,377.5 1037.6,367.0 1038.8,350.0M929.0,378.1L917.5,378.3C902.0,377.0 881.0,367.0 879.8,350.0M12.5,508.8C6.5,510.5 -1.5,515.5 -5.5,522.0C-5.0,527.5 -4.0,532.5 -1.5,536.0C2.5,540.0 7.5,541.7 13.0,541.7C18.5,541.7 23.5,539.7 27.0,535.5C29.0,532.0 29.8,527.5 29.8,522.5C26.5,515.5 19.5,510.5 12.5,508.8M-7.5,520.0C-8.0,523.0 -7.0,525.5 -5.0,526.5C-3.5,527.0 -2.0,526.7 -0.5,525.7M32.0,520.0C32.5,523.0 31.5,525.5 29.5,526.5C28.0,527.0 26.5,526.7 25.0,525.7M0.7,540.0C1.0,544.5 1.3,547.5 0.0,551.0C-2.5,556.5 -6.5,559.0 -11.5,560.1C-15.5,561.0 -20.5,561.3 -24.5,560.3C-28.0,559.3 -30.5,557.0 -31.5,554.5M24.5,540.0C24.5,544.5 24.7,547.5 26.0,551.0C28.0,556.0 32.5,558.5 38.5,559.7C42.5,560.5 46.5,560.3 50.0,558.7C52.5,557.5 54.3,556.3 55.1,554.9M-11.5,560.1C-5.5,561.0 0.5,564.5 5.0,570.5C8.5,576.5 10.5,585.5 11.3,594.0M38.5,559.7C31.5,560.7 24.5,564.0 20.0,570.5C16.0,576.5 13.5,585.5 12.0,594.0M11.6,593.5C11.3,601.5 10.5,608.5 10.2,615.0C10.0,632.5 15.0,658.0 12.5,684.3M46.0,553.9L55.5,554.7C70.5,553.5 85.6,543.0 86.8,526.0M-21.5,554.1L-33.0,554.3C-48.5,553.0 -70.0,543.0 -71.2,526.0M170.5,508.8C164.5,510.5 156.5,515.5 152.5,522.0C153.0,527.5 154.0,532.5 156.5,536.0C160.5,540.0 165.5,541.7 171.0,541.7C176.5,541.7 181.5,539.7 185.0,535.5C187.0,532.0 187.8,527.5 187.8,522.5C184.5,515.5 177.5,510.5 170.5,508.8M150.5,520.0C150.0,523.0 151.0,525.5 153.0,526.5C154.5,527.0 156.0,526.7 157.5,525.7M190.0,520.0C190.5,523.0 189.5,525.5 187.5,526.5C186.0,527.0 184.5,526.7 183.0,525.7M158.7,540.0C159.0,544.5 159.3,547.5 158.0,551.0C155.5,556.5 151.5,559.0 146.5,560.1C142.5,561.0 137.5,561.3 133.5,560.3C130.0,559.3 127.5,557.0 126.5,554.5M182.5,540.0C182.5,544.5 182.7,547.5 184.0,551.0C186.0,556.0 190.5,558.5 196.5,559.7C200.5,560.5 204.5,560.3 208.0,558.7C210.5,557.5 212.3,556.3 213.1,554.9M146.5,560.1C152.5,561.0 158.5,564.5 163.0,570.5C166.5,576.5 168.5,585.5 169.3,594.0M196.5,559.7C189.5,560.7 182.5,564.0 178.0,570.5C174.0,576.5 171.5,585.5 170.0,594.0M169.6,593.5C169.3,601.5 168.5,608.5 168.2,615.0C168.0,632.5 173.0,658.0 170.5,684.3M204.0,553.9L213.5,554.7C228.5,553.5 246.6,543.0 247.8,526.0M136.5,554.1L125.0,554.3C109.5,553.0 88.0,543.0 86.8,526.0M327.0,508.8C321.0,510.5 313.0,515.5 309.0,522.0C309.5,527.5 310.5,532.5 313.0,536.0C317.0,540.0 322.0,541.7 327.5,541.7C333.0,541.7 338.0,539.7 341.5,535.5C343.5,532.0 344.3,527.5 344.3,522.5C341.0,515.5 334.0,510.5 327.0,508.8M307.0,520.0C306.5,523.0 307.5,525.5 309.5,526.5C311.0,527.0 312.5,526.7 314.0,525.7M346.5,520.0C347.0,523.0 346.0,525.5 344.0,526.5C342.5,527.0 341.0,526.7 339.5,525.7M315.2,540.0C315.5,544.5 315.8,547.5 314.5,551.0C312.0,556.5 308.0,559.0 303.0,560.1C299.0,561.0 294.0,561.3 290.0,560.3C286.5,559.3 284.0,557.0 283.0,554.5M339.0,540.0C339.0,544.5 339.2,547.5 340.5,551.0C342.5,556.0 347.0,558.5 353.0,559.7C357.0,560.5 361.0,560.3 364.5,558.7C367.0,557.5 368.8,556.3 369.6,554.9M303.0,560.1C309.0,561.0 315.0,564.5 319.5,570.5C323.0,576.5 325.0,585.5 325.8,594.0M353.0,559.7C346.0,560.7 339.0,564.0 334.5,570.5C330.5,576.5 328.0,585.5 326.5,594.0M326.1,593.5C325.8,601.5 325.0,608.5 324.7,615.0C324.5,632.5 329.5,658.0 327.0,684.3M360.5,553.9L370.0,554.7C385.0,553.5 405.1,543.0 406.3,526.0M293.0,554.1L281.5,554.3C266.0,553.0 249.0,543.0 247.8,526.0M485.0,508.8C479.0,510.5 471.0,515.5 467.0,522.0C467.5,527.5 468.5,532.5 471.0,536.0C475.0,540.0 480.0,541.7 485.5,541.7C491.0,541.7 496.0,539.7 499.5,535.5C501.5,532.0 502.3,527.5 502.3,522.5C499.0,515.5 492.0,510.5 485.0,508.8M465.0,520.0C464.5,523.0 465.5,525.5 467.5,526.5C469.0,527.0 470.5,526.7 472.0,525.7M504.5,520.0C505.0,523.0 504.0,525.5 502.0,526.5C500.5,527.0 499.0,526.7 497.5,525.7M473.2,540.0C473.5,544.5 473.8,547.5 472.5,551.0C470.0,556.5 466.0,559.0 461.0,560.1C457.0,561.0 452.0,561.3 448.0,560.3C444.5,559.3 442.0,557.0 441.0,554.5M497.0,540.0C497.0,544.5 497.2,547.5 498.5,551.0C500.5,556.0 505.0,558.5 511.0,559.7C515.0,560.5 519.0,560.3 522.5,558.7C525.0,557.5 526.8,556.3 527.6,554.9M461.0,560.1C467.0,561.0 473.0,564.5 477.5,570.5C481.0,576.5 483.0,585.5 483.8,594.0M511.0,559.7C504.0,560.7 497.0,564.0 492.5,570.5C488.5,576.5 486.0,585.5 484.5,594.0M484.1,593.5C483.8,601.5 483.0,608.5 482.7,615.0C482.5,632.5 487.5,658.0 485.0,684.3M518.5,553.9L528.0,554.7C543.0,553.5 564.1,543.0 565.3,526.0M451.0,554.1L439.5,554.3C424.0,553.0 407.5,543.0 406.3,526.0M643.5,508.8C637.5,510.5 629.5,515.5 625.5,522.0C626.0,527.5 627.0,532.5 629.5,536.0C633.5,540.0 638.5,541.7 644.0,541.7C649.5,541.7 654.5,539.7 658.0,535.5C660.0,532.0 660.8,527.5 660.8,522.5C657.5,515.5 650.5,510.5 643.5,508.8M623.5,520.0C623.0,523.0 624.0,525.5 626.0,526.5C627.5,527.0 629.0,526.7 630.5,525.7M663.0,520.0C663.5,523.0 662.5,525.5 660.5,526.5C659.0,527.0 657.5,526.7 656.0,525.7M631.7,540.0C632.0,544.5 632.3,547.5 631.0,551.0C628.5,556.5 624.5,559.0 619.5,560.1C615.5,561.0 610.5,561.3 606.5,560.3C603.0,559.3 600.5,557.0 599.5,554.5M655.5,540.0C655.5,544.5 655.7,547.5 657.0,551.0C659.0,556.0 663.5,558.5 669.5,559.7C673.5,560.5 677.5,560.3 681.0,558.7C683.5,557.5 685.3,556.3 686.1,554.9M619.5,560.1C625.5,561.0 631.5,564.5 636.0,570.5C639.5,576.5 641.5,585.5 642.3,594.0M669.5,559.7C662.5,560.7 655.5,564.0 651.0,570.5C647.0,576.5 644.5,585.5 643.0,594.0M642.6,593.5C642.3,601.5 641.5,608.5 641.2,615.0C641.0,632.5 646.0,658.0 643.5,684.3M677.0,553.9L686.5,554.7C701.5,553.5 720.1,543.0 721.3,526.0M609.5,554.1L598.0,554.3C582.5,553.0 566.5,543.0 565.3,526.0M804.5,508.8C798.5,510.5 790.5,515.5 786.5,522.0C787.0,527.5 788.0,532.5 790.5,536.0C794.5,540.0 799.5,541.7 805.0,541.7C810.5,541.7 815.5,539.7 819.0,535.5C821.0,532.0 821.8,527.5 821.8,522.5C818.5,515.5 811.5,510.5 804.5,508.8M784.5,520.0C784.0,523.0 785.0,525.5 787.0,526.5C788.5,527.0 790.0,526.7 791.5,525.7M824.0,520.0C824.5,523.0 823.5,525.5 821.5,526.5C820.0,527.0 818.5,526.7 817.0,525.7M792.7,540.0C793.0,544.5 793.3,547.5 792.0,551.0C789.5,556.5 785.5,559.0 780.5,560.1C776.5,561.0 771.5,561.3 767.5,560.3C764.0,559.3 761.5,557.0 760.5,554.5M816.5,540.0C816.5,544.5 816.7,547.5 818.0,551.0C820.0,556.0 824.5,558.5 830.5,559.7C834.5,560.5 838.5,560.3 842.0,558.7C844.5,557.5 846.3,556.3 847.1,554.9M780.5,560.1C786.5,561.0 792.5,564.5 797.0,570.5C800.5,576.5 802.5,585.5 803.3,594.0M830.5,559.7C823.5,560.7 816.5,564.0 812.0,570.5C808.0,576.5 805.5,585.5 804.0,594.0M803.6,593.5C803.3,601.5 802.5,608.5 802.2,615.0C802.0,632.5 807.0,658.0 804.5,684.3M838.0,553.9L847.5,554.7C862.5,553.5 878.6,543.0 879.8,526.0M770.5,554.1L759.0,554.3C743.5,553.0 722.5,543.0 721.3,526.0M963.0,508.8C957.0,510.5 949.0,515.5 945.0,522.0C945.5,527.5 946.5,532.5 949.0,536.0C953.0,540.0 958.0,541.7 963.5,541.7C969.0,541.7 974.0,539.7 977.5,535.5C979.5,532.0 980.3,527.5 980.3,522.5C977.0,515.5 970.0,510.5 963.0,508.8M943.0,520.0C942.5,523.0 943.5,525.5 945.5,526.5C947.0,527.0 948.5,526.7 950.0,525.7M982.5,520.0C983.0,523.0 982.0,525.5 980.0,526.5C978.5,527.0 977.0,526.7 975.5,525.7M951.2,540.0C951.5,544.5 951.8,547.5 950.5,551.0C948.0,556.5 944.0,559.0 939.0,560.1C935.0,561.0 930.0,561.3 926.0,560.3C922.5,559.3 920.0,557.0 919.0,554.5M975.0,540.0C975.0,544.5 975.2,547.5 976.5,551.0C978.5,556.0 983.0,558.5 989.0,559.7C993.0,560.5 997.0,560.3 1000.5,558.7C1003.0,557.5 1004.8,556.3 1005.6,554.9M939.0,560.1C945.0,561.0 951.0,564.5 955.5,570.5C959.0,576.5 961.0,585.5 961.8,594.0M989.0,559.7C982.0,560.7 975.0,564.0 970.5,570.5C966.5,576.5 964.0,585.5 962.5,594.0M962.1,593.5C961.8,601.5 961.0,608.5 960.7,615.0C960.5,632.5 965.5,658.0 963.0,684.3M996.5,553.9L1006.0,554.7C1021.0,553.5 1037.6,543.0 1038.8,526.0M929.0,554.1L917.5,554.3C902.0,553.0 881.0,543.0 879.8,526.0M12.5,684.3C6.5,686.0 -1.5,691.0 -5.5,697.5C-5.0,703.0 -4.0,708.0 -1.5,711.5C2.5,715.5 7.5,717.2 13.0,717.2C18.5,717.2 23.5,715.2 27.0,711.0C29.0,707.5 29.8,703.0 29.8,698.0C26.5,691.0 19.5,686.0 12.5,684.3M-7.5,695.5C-8.0,698.5 -7.0,701.0 -5.0,702.0C-3.5,702.5 -2.0,702.2 -0.5,701.2M32.0,695.5C32.5,698.5 31.5,701.0 29.5,702.0C28.0,702.5 26.5,702.2 25.0,701.2M0.7,715.5C1.0,720.0 1.3,723.0 0.0,726.5C-2.5,732.0 -6.5,734.5 -11.5,735.6C-15.5,736.5 -20.5,736.8 -24.5,735.8C-28.0,734.8 -30.5,732.5 -31.5,730.0M24.5,715.5C24.5,720.0 24.7,723.0 26.0,726.5C28.0,731.5 32.5,734.0 38.5,735.2C42.5,736.0 46.5,735.8 50.0,734.2C52.5,733.0 54.3,731.8 55.1,730.4M-11.5,735.6C-5.5,736.5 0.5,740.0 5.0,746.0C8.5,752.0 10.5,761.0 11.3,769.5M38.5,735.2C31.5,736.2 24.5,739.5 20.0,746.0C16.0,752.0 13.5,761.0 12.0,769.5M11.6,769.0C11.3,777.0 10.5,784.0 10.2,790.5M46.0,729.4L55.5,730.2C70.5,729.0 85.6,717.5 86.8,700.5M-21.5,729.6L-33.0,729.8C-48.5,728.5 -70.0,717.5 -71.2,700.5M170.5,684.3C164.5,686.0 156.5,691.0 152.5,697.5C153.0,703.0 154.0,708.0 156.5,711.5C160.5,715.5 165.5,717.2 171.0,717.2C176.5,717.2 181.5,715.2 185.0,711.0C187.0,707.5 187.8,703.0 187.8,698.0C184.5,691.0 177.5,686.0 170.5,684.3M150.5,695.5C150.0,698.5 151.0,701.0 153.0,702.0C154.5,702.5 156.0,702.2 157.5,701.2M190.0,695.5C190.5,698.5 189.5,701.0 187.5,702.0C186.0,702.5 184.5,702.2 183.0,701.2M158.7,715.5C159.0,720.0 159.3,723.0 158.0,726.5C155.5,732.0 151.5,734.5 146.5,735.6C142.5,736.5 137.5,736.8 133.5,735.8C130.0,734.8 127.5,732.5 126.5,730.0M182.5,715.5C182.5,720.0 182.7,723.0 184.0,726.5C186.0,731.5 190.5,734.0 196.5,735.2C200.5,736.0 204.5,735.8 208.0,734.2C210.5,733.0 212.3,731.8 213.1,730.4M146.5,735.6C152.5,736.5 158.5,740.0 163.0,746.0C166.5,752.0 168.5,761.0 169.3,769.5M196.5,735.2C189.5,736.2 182.5,739.5 178.0,746.0C174.0,752.0 171.5,761.0 170.0,769.5M169.6,769.0C169.3,777.0 168.5,784.0 168.2,790.5M204.0,729.4L213.5,730.2C228.5,729.0 246.6,717.5 247.8,700.5M136.5,729.6L125.0,729.8C109.5,728.5 88.0,717.5 86.8,700.5M327.0,684.3C321.0,686.0 313.0,691.0 309.0,697.5C309.5,703.0 310.5,708.0 313.0,711.5C317.0,715.5 322.0,717.2 327.5,717.2C333.0,717.2 338.0,715.2 341.5,711.0C343.5,707.5 344.3,703.0 344.3,698.0C341.0,691.0 334.0,686.0 327.0,684.3M307.0,695.5C306.5,698.5 307.5,701.0 309.5,702.0C311.0,702.5 312.5,702.2 314.0,701.2M346.5,695.5C347.0,698.5 346.0,701.0 344.0,702.0C342.5,702.5 341.0,702.2 339.5,701.2M315.2,715.5C315.5,720.0 315.8,723.0 314.5,726.5C312.0,732.0 308.0,734.5 303.0,735.6C299.0,736.5 294.0,736.8 290.0,735.8C286.5,734.8 284.0,732.5 283.0,730.0M339.0,715.5C339.0,720.0 339.2,723.0 340.5,726.5C342.5,731.5 347.0,734.0 353.0,735.2C357.0,736.0 361.0,735.8 364.5,734.2C367.0,733.0 368.8,731.8 369.6,730.4M303.0,735.6C309.0,736.5 315.0,740.0 319.5,746.0C323.0,752.0 325.0,761.0 325.8,769.5M353.0,735.2C346.0,736.2 339.0,739.5 334.5,746.0C330.5,752.0 328.0,761.0 326.5,769.5M326.1,769.0C325.8,777.0 325.0,784.0 324.7,790.5M360.5,729.4L370.0,730.2C385.0,729.0 405.1,717.5 406.3,700.5M293.0,729.6L281.5,729.8C266.0,728.5 249.0,717.5 247.8,700.5M485.0,684.3C479.0,686.0 471.0,691.0 467.0,697.5C467.5,703.0 468.5,708.0 471.0,711.5C475.0,715.5 480.0,717.2 485.5,717.2C491.0,717.2 496.0,715.2 499.5,711.0C501.5,707.5 502.3,703.0 502.3,698.0C499.0,691.0 492.0,686.0 485.0,684.3M465.0,695.5C464.5,698.5 465.5,701.0 467.5,702.0C469.0,702.5 470.5,702.2 472.0,701.2M504.5,695.5C505.0,698.5 504.0,701.0 502.0,702.0C500.5,702.5 499.0,702.2 497.5,701.2M473.2,715.5C473.5,720.0 473.8,723.0 472.5,726.5C470.0,732.0 466.0,734.5 461.0,735.6C457.0,736.5 452.0,736.8 448.0,735.8C444.5,734.8 442.0,732.5 441.0,730.0M497.0,715.5C497.0,720.0 497.2,723.0 498.5,726.5C500.5,731.5 505.0,734.0 511.0,735.2C515.0,736.0 519.0,735.8 522.5,734.2C525.0,733.0 526.8,731.8 527.6,730.4M461.0,735.6C467.0,736.5 473.0,740.0 477.5,746.0C481.0,752.0 483.0,761.0 483.8,769.5M511.0,735.2C504.0,736.2 497.0,739.5 492.5,746.0C488.5,752.0 486.0,761.0 484.5,769.5M484.1,769.0C483.8,777.0 483.0,784.0 482.7,790.5M518.5,729.4L528.0,730.2C543.0,729.0 564.1,717.5 565.3,700.5M451.0,729.6L439.5,729.8C424.0,728.5 407.5,717.5 406.3,700.5M643.5,684.3C637.5,686.0 629.5,691.0 625.5,697.5C626.0,703.0 627.0,708.0 629.5,711.5C633.5,715.5 638.5,717.2 644.0,717.2C649.5,717.2 654.5,715.2 658.0,711.0C660.0,707.5 660.8,703.0 660.8,698.0C657.5,691.0 650.5,686.0 643.5,684.3M623.5,695.5C623.0,698.5 624.0,701.0 626.0,702.0C627.5,702.5 629.0,702.2 630.5,701.2M663.0,695.5C663.5,698.5 662.5,701.0 660.5,702.0C659.0,702.5 657.5,702.2 656.0,701.2M631.7,715.5C632.0,720.0 632.3,723.0 631.0,726.5C628.5,732.0 624.5,734.5 619.5,735.6C615.5,736.5 610.5,736.8 606.5,735.8C603.0,734.8 600.5,732.5 599.5,730.0M655.5,715.5C655.5,720.0 655.7,723.0 657.0,726.5C659.0,731.5 663.5,734.0 669.5,735.2C673.5,736.0 677.5,735.8 681.0,734.2C683.5,733.0 685.3,731.8 686.1,730.4M619.5,735.6C625.5,736.5 631.5,740.0 636.0,746.0C639.5,752.0 641.5,761.0 642.3,769.5M669.5,735.2C662.5,736.2 655.5,739.5 651.0,746.0C647.0,752.0 644.5,761.0 643.0,769.5M642.6,769.0C642.3,777.0 641.5,784.0 641.2,790.5M677.0,729.4L686.5,730.2C701.5,729.0 720.1,717.5 721.3,700.5M609.5,729.6L598.0,729.8C582.5,728.5 566.5,717.5 565.3,700.5M804.5,684.3C798.5,686.0 790.5,691.0 786.5,697.5C787.0,703.0 788.0,708.0 790.5,711.5C794.5,715.5 799.5,717.2 805.0,717.2C810.5,717.2 815.5,715.2 819.0,711.0C821.0,707.5 821.8,703.0 821.8,698.0C818.5,691.0 811.5,686.0 804.5,684.3M784.5,695.5C784.0,698.5 785.0,701.0 787.0,702.0C788.5,702.5 790.0,702.2 791.5,701.2M824.0,695.5C824.5,698.5 823.5,701.0 821.5,702.0C820.0,702.5 818.5,702.2 817.0,701.2M792.7,715.5C793.0,720.0 793.3,723.0 792.0,726.5C789.5,732.0 785.5,734.5 780.5,735.6C776.5,736.5 771.5,736.8 767.5,735.8C764.0,734.8 761.5,732.5 760.5,730.0M816.5,715.5C816.5,720.0 816.7,723.0 818.0,726.5C820.0,731.5 824.5,734.0 830.5,735.2C834.5,736.0 838.5,735.8 842.0,734.2C844.5,733.0 846.3,731.8 847.1,730.4M780.5,735.6C786.5,736.5 792.5,740.0 797.0,746.0C800.5,752.0 802.5,761.0 803.3,769.5M830.5,735.2C823.5,736.2 816.5,739.5 812.0,746.0C808.0,752.0 805.5,761.0 804.0,769.5M803.6,769.0C803.3,777.0 802.5,784.0 802.2,790.5M838.0,729.4L847.5,730.2C862.5,729.0 878.6,717.5 879.8,700.5M770.5,729.6L759.0,729.8C743.5,728.5 722.5,717.5 721.3,700.5M963.0,684.3C957.0,686.0 949.0,691.0 945.0,697.5C945.5,703.0 946.5,708.0 949.0,711.5C953.0,715.5 958.0,717.2 963.5,717.2C969.0,717.2 974.0,715.2 977.5,711.0C979.5,707.5 980.3,703.0 980.3,698.0C977.0,691.0 970.0,686.0 963.0,684.3M943.0,695.5C942.5,698.5 943.5,701.0 945.5,702.0C947.0,702.5 948.5,702.2 950.0,701.2M982.5,695.5C983.0,698.5 982.0,701.0 980.0,702.0C978.5,702.5 977.0,702.2 975.5,701.2M951.2,715.5C951.5,720.0 951.8,723.0 950.5,726.5C948.0,732.0 944.0,734.5 939.0,735.6C935.0,736.5 930.0,736.8 926.0,735.8C922.5,734.8 920.0,732.5 919.0,730.0M975.0,715.5C975.0,720.0 975.2,723.0 976.5,726.5C978.5,731.5 983.0,734.0 989.0,735.2C993.0,736.0 997.0,735.8 1000.5,734.2C1003.0,733.0 1004.8,731.8 1005.6,730.4M939.0,735.6C945.0,736.5 951.0,740.0 955.5,746.0C959.0,752.0 961.0,761.0 961.8,769.5M989.0,735.2C982.0,736.2 975.0,739.5 970.5,746.0C966.5,752.0 964.0,761.0 962.5,769.5M962.1,769.0C961.8,777.0 961.0,784.0 960.7,790.5M996.5,729.4L1006.0,730.2C1021.0,729.0 1037.6,717.5 1038.8,700.5M929.0,729.6L917.5,729.8C902.0,728.5 881.0,717.5 879.8,700.5M-69.0,-105.7C-75.0,-104.0 -83.0,-99.0 -87.0,-92.5C-86.5,-87.0 -85.5,-82.0 -83.0,-78.5C-79.0,-74.5 -74.0,-72.8 -68.5,-72.8C-63.0,-72.8 -58.0,-74.8 -54.5,-79.0C-52.5,-82.5 -51.7,-87.0 -51.7,-92.0C-55.0,-99.0 -62.0,-104.0 -69.0,-105.7M-89.0,-94.5C-89.5,-91.5 -88.5,-89.0 -86.5,-88.0C-85.0,-87.5 -83.5,-87.8 -82.0,-88.8M-49.5,-94.5C-49.0,-91.5 -50.0,-89.0 -52.0,-88.0C-53.5,-87.5 -55.0,-87.8 -56.5,-88.8M-80.8,-74.5C-80.5,-70.0 -80.2,-67.0 -81.5,-63.5C-84.0,-58.0 -88.0,-55.5 -93.0,-54.4C-97.0,-53.5 -102.0,-53.2 -106.0,-54.2C-109.5,-55.2 -112.0,-57.5 -113.0,-60.0M-57.0,-74.5C-57.0,-70.0 -56.8,-67.0 -55.5,-63.5C-53.5,-58.5 -49.0,-56.0 -43.0,-54.8C-39.0,-54.0 -35.0,-54.2 -31.5,-55.8C-29.0,-57.0 -27.2,-58.2 -26.4,-59.6M-93.0,-54.4C-87.0,-53.5 -81.0,-50.0 -76.5,-44.0C-73.0,-38.0 -71.0,-29.0 -70.2,-20.5M-43.0,-54.8C-50.0,-53.8 -57.0,-50.5 -61.5,-44.0C-65.5,-38.0 -68.0,-29.0 -69.5,-20.5M-69.9,-21.0C-70.2,-13.0 -71.0,-6.0 -71.3,0.5C-71.5,18.0 -66.5,44.0 -69.0,70.3M-35.5,-60.6L-26.0,-59.8C-11.0,-61.0 9.1,-73.0 10.3,-90.0M-103.0,-60.4L-114.5,-60.2C-130.0,-61.5 -147.0,-73.0 -148.2,-90.0M89.0,-105.7C83.0,-104.0 75.0,-99.0 71.0,-92.5C71.5,-87.0 72.5,-82.0 75.0,-78.5C79.0,-74.5 84.0,-72.8 89.5,-72.8C95.0,-72.8 100.0,-74.8 103.5,-79.0C105.5,-82.5 106.3,-87.0 106.3,-92.0C103.0,-99.0 96.0,-104.0 89.0,-105.7M69.0,-94.5C68.5,-91.5 69.5,-89.0 71.5,-88.0C73.0,-87.5 74.5,-87.8 76.0,-88.8M108.5,-94.5C109.0,-91.5 108.0,-89.0 106.0,-88.0C104.5,-87.5 103.0,-87.8 101.5,-88.8M77.2,-74.5C77.5,-70.0 77.8,-67.0 76.5,-63.5C74.0,-58.0 70.0,-55.5 65.0,-54.4C61.0,-53.5 56.0,-53.2 52.0,-54.2C48.5,-55.2 46.0,-57.5 45.0,-60.0M101.0,-74.5C101.0,-70.0 101.2,-67.0 102.5,-63.5C104.5,-58.5 109.0,-56.0 115.0,-54.8C119.0,-54.0 123.0,-54.2 126.5,-55.8C129.0,-57.0 130.8,-58.2 131.6,-59.6M65.0,-54.4C71.0,-53.5 77.0,-50.0 81.5,-44.0C85.0,-38.0 87.0,-29.0 87.8,-20.5M115.0,-54.8C108.0,-53.8 101.0,-50.5 96.5,-44.0C92.5,-38.0 90.0,-29.0 88.5,-20.5M88.1,-21.0C87.8,-13.0 87.0,-6.0 86.7,0.5C86.5,18.0 91.5,44.0 89.0,70.3M122.5,-60.6L132.0,-59.8C147.0,-61.0 167.1,-73.0 168.3,-90.0M55.0,-60.4L43.5,-60.2C28.0,-61.5 11.5,-73.0 10.3,-90.0M250.0,-105.7C244.0,-104.0 236.0,-99.0 232.0,-92.5C232.5,-87.0 233.5,-82.0 236.0,-78.5C240.0,-74.5 245.0,-72.8 250.5,-72.8C256.0,-72.8 261.0,-74.8 264.5,-79.0C266.5,-82.5 267.3,-87.0 267.3,-92.0C264.0,-99.0 257.0,-104.0 250.0,-105.7M230.0,-94.5C229.5,-91.5 230.5,-89.0 232.5,-88.0C234.0,-87.5 235.5,-87.8 237.0,-88.8M269.5,-94.5C270.0,-91.5 269.0,-89.0 267.0,-88.0C265.5,-87.5 264.0,-87.8 262.5,-88.8M238.2,-74.5C238.5,-70.0 238.8,-67.0 237.5,-63.5C235.0,-58.0 231.0,-55.5 226.0,-54.4C222.0,-53.5 217.0,-53.2 213.0,-54.2C209.5,-55.2 207.0,-57.5 206.0,-60.0M262.0,-74.5C262.0,-70.0 262.2,-67.0 263.5,-63.5C265.5,-58.5 270.0,-56.0 276.0,-54.8C280.0,-54.0 284.0,-54.2 287.5,-55.8C290.0,-57.0 291.8,-58.2 292.6,-59.6M226.0,-54.4C232.0,-53.5 238.0,-50.0 242.5,-44.0C246.0,-38.0 248.0,-29.0 248.8,-20.5M276.0,-54.8C269.0,-53.8 262.0,-50.5 257.5,-44.0C253.5,-38.0 251.0,-29.0 249.5,-20.5M249.1,-21.0C248.8,-13.0 248.0,-6.0 247.7,0.5C247.5,18.0 252.5,44.0 250.0,70.3M283.5,-60.6L293.0,-59.8C308.0,-61.0 323.6,-73.0 324.8,-90.0M216.0,-60.4L204.5,-60.2C189.0,-61.5 169.5,-73.0 168.3,-90.0M408.5,-105.7C402.5,-104.0 394.5,-99.0 390.5,-92.5C391.0,-87.0 392.0,-82.0 394.5,-78.5C398.5,-74.5 403.5,-72.8 409.0,-72.8C414.5,-72.8 419.5,-74.8 423.0,-79.0C425.0,-82.5 425.8,-87.0 425.8,-92.0C422.5,-99.0 415.5,-104.0 408.5,-105.7M388.5,-94.5C388.0,-91.5 389.0,-89.0 391.0,-88.0C392.5,-87.5 394.0,-87.8 395.5,-88.8M428.0,-94.5C428.5,-91.5 427.5,-89.0 425.5,-88.0C424.0,-87.5 422.5,-87.8 421.0,-88.8M396.7,-74.5C397.0,-70.0 397.3,-67.0 396.0,-63.5C393.5,-58.0 389.5,-55.5 384.5,-54.4C380.5,-53.5 375.5,-53.2 371.5,-54.2C368.0,-55.2 365.5,-57.5 364.5,-60.0M420.5,-74.5C420.5,-70.0 420.7,-67.0 422.0,-63.5C424.0,-58.5 428.5,-56.0 434.5,-54.8C438.5,-54.0 442.5,-54.2 446.0,-55.8C448.5,-57.0 450.3,-58.2 451.1,-59.6M384.5,-54.4C390.5,-53.5 396.5,-50.0 401.0,-44.0C404.5,-38.0 406.5,-29.0 407.3,-20.5M434.5,-54.8C427.5,-53.8 420.5,-50.5 416.0,-44.0C412.0,-38.0 409.5,-29.0 408.0,-20.5M407.6,-21.0C407.3,-13.0 406.5,-6.0 406.2,0.5C406.0,18.0 411.0,44.0 408.5,70.3M442.0,-60.6L451.5,-59.8C466.5,-61.0 481.6,-73.0 482.8,-90.0M374.5,-60.4L363.0,-60.2C347.5,-61.5 326.0,-73.0 324.8,-90.0M567.5,-105.7C561.5,-104.0 553.5,-99.0 549.5,-92.5C550.0,-87.0 551.0,-82.0 553.5,-78.5C557.5,-74.5 562.5,-72.8 568.0,-72.8C573.5,-72.8 578.5,-74.8 582.0,-79.0C584.0,-82.5 584.8,-87.0 584.8,-92.0C581.5,-99.0 574.5,-104.0 567.5,-105.7M547.5,-94.5C547.0,-91.5 548.0,-89.0 550.0,-88.0C551.5,-87.5 553.0,-87.8 554.5,-88.8M587.0,-94.5C587.5,-91.5 586.5,-89.0 584.5,-88.0C583.0,-87.5 581.5,-87.8 580.0,-88.8M555.7,-74.5C556.0,-70.0 556.3,-67.0 555.0,-63.5C552.5,-58.0 548.5,-55.5 543.5,-54.4C539.5,-53.5 534.5,-53.2 530.5,-54.2C527.0,-55.2 524.5,-57.5 523.5,-60.0M579.5,-74.5C579.5,-70.0 579.7,-67.0 581.0,-63.5C583.0,-58.5 587.5,-56.0 593.5,-54.8C597.5,-54.0 601.5,-54.2 605.0,-55.8C607.5,-57.0 609.3,-58.2 610.1,-59.6M543.5,-54.4C549.5,-53.5 555.5,-50.0 560.0,-44.0C563.5,-38.0 565.5,-29.0 566.3,-20.5M593.5,-54.8C586.5,-53.8 579.5,-50.5 575.0,-44.0C571.0,-38.0 568.5,-29.0 567.0,-20.5M566.6,-21.0C566.3,-13.0 565.5,-6.0 565.2,0.5C565.0,18.0 570.0,44.0 567.5,70.3M601.0,-60.6L610.5,-59.8C625.5,-61.0 640.1,-73.0 641.3,-90.0M533.5,-60.4L522.0,-60.2C506.5,-61.5 484.0,-73.0 482.8,-90.0M723.5,-105.7C717.5,-104.0 709.5,-99.0 705.5,-92.5C706.0,-87.0 707.0,-82.0 709.5,-78.5C713.5,-74.5 718.5,-72.8 724.0,-72.8C729.5,-72.8 734.5,-74.8 738.0,-79.0C740.0,-82.5 740.8,-87.0 740.8,-92.0C737.5,-99.0 730.5,-104.0 723.5,-105.7M703.5,-94.5C703.0,-91.5 704.0,-89.0 706.0,-88.0C707.5,-87.5 709.0,-87.8 710.5,-88.8M743.0,-94.5C743.5,-91.5 742.5,-89.0 740.5,-88.0C739.0,-87.5 737.5,-87.8 736.0,-88.8M711.7,-74.5C712.0,-70.0 712.3,-67.0 711.0,-63.5C708.5,-58.0 704.5,-55.5 699.5,-54.4C695.5,-53.5 690.5,-53.2 686.5,-54.2C683.0,-55.2 680.5,-57.5 679.5,-60.0M735.5,-74.5C735.5,-70.0 735.7,-67.0 737.0,-63.5C739.0,-58.5 743.5,-56.0 749.5,-54.8C753.5,-54.0 757.5,-54.2 761.0,-55.8C763.5,-57.0 765.3,-58.2 766.1,-59.6M699.5,-54.4C705.5,-53.5 711.5,-50.0 716.0,-44.0C719.5,-38.0 721.5,-29.0 722.3,-20.5M749.5,-54.8C742.5,-53.8 735.5,-50.5 731.0,-44.0C727.0,-38.0 724.5,-29.0 723.0,-20.5M722.6,-21.0C722.3,-13.0 721.5,-6.0 721.2,0.5C721.0,18.0 726.0,44.0 723.5,70.3M757.0,-60.6L766.5,-59.8C781.5,-61.0 801.1,-73.0 802.3,-90.0M689.5,-60.4L678.0,-60.2C662.5,-61.5 642.5,-73.0 641.3,-90.0M882.0,-105.7C876.0,-104.0 868.0,-99.0 864.0,-92.5C864.5,-87.0 865.5,-82.0 868.0,-78.5C872.0,-74.5 877.0,-72.8 882.5,-72.8C888.0,-72.8 893.0,-74.8 896.5,-79.0C898.5,-82.5 899.3,-87.0 899.3,-92.0C896.0,-99.0 889.0,-104.0 882.0,-105.7M862.0,-94.5C861.5,-91.5 862.5,-89.0 864.5,-88.0C866.0,-87.5 867.5,-87.8 869.0,-88.8M901.5,-94.5C902.0,-91.5 901.0,-89.0 899.0,-88.0C897.5,-87.5 896.0,-87.8 894.5,-88.8M870.2,-74.5C870.5,-70.0 870.8,-67.0 869.5,-63.5C867.0,-58.0 863.0,-55.5 858.0,-54.4C854.0,-53.5 849.0,-53.2 845.0,-54.2C841.5,-55.2 839.0,-57.5 838.0,-60.0M894.0,-74.5C894.0,-70.0 894.2,-67.0 895.5,-63.5C897.5,-58.5 902.0,-56.0 908.0,-54.8C912.0,-54.0 916.0,-54.2 919.5,-55.8C922.0,-57.0 923.8,-58.2 924.6,-59.6M858.0,-54.4C864.0,-53.5 870.0,-50.0 874.5,-44.0C878.0,-38.0 880.0,-29.0 880.8,-20.5M908.0,-54.8C901.0,-53.8 894.0,-50.5 889.5,-44.0C885.5,-38.0 883.0,-29.0 881.5,-20.5M881.1,-21.0C880.8,-13.0 880.0,-6.0 879.7,0.5C879.5,18.0 884.5,44.0 882.0,70.3M915.5,-60.6L925.0,-59.8C940.0,-61.0 959.6,-73.0 960.8,-90.0M848.0,-60.4L836.5,-60.2C821.0,-61.5 803.5,-73.0 802.3,-90.0M-69.0,70.3C-75.0,72.0 -83.0,77.0 -87.0,83.5C-86.5,89.0 -85.5,94.0 -83.0,97.5C-79.0,101.5 -74.0,103.2 -68.5,103.2C-63.0,103.2 -58.0,101.2 -54.5,97.0C-52.5,93.5 -51.7,89.0 -51.7,84.0C-55.0,77.0 -62.0,72.0 -69.0,70.3M-89.0,81.5C-89.5,84.5 -88.5,87.0 -86.5,88.0C-85.0,88.5 -83.5,88.2 -82.0,87.2M-49.5,81.5C-49.0,84.5 -50.0,87.0 -52.0,88.0C-53.5,88.5 -55.0,88.2 -56.5,87.2M-80.8,101.5C-80.5,106.0 -80.2,109.0 -81.5,112.5C-84.0,118.0 -88.0,120.5 -93.0,121.6C-97.0,122.5 -102.0,122.8 -106.0,121.8C-109.5,120.8 -112.0,118.5 -113.0,116.0M-57.0,101.5C-57.0,106.0 -56.8,109.0 -55.5,112.5C-53.5,117.5 -49.0,120.0 -43.0,121.2C-39.0,122.0 -35.0,121.8 -31.5,120.2C-29.0,119.0 -27.2,117.8 -26.4,116.4M-93.0,121.6C-87.0,122.5 -81.0,126.0 -76.5,132.0C-73.0,138.0 -71.0,147.0 -70.2,155.5M-43.0,121.2C-50.0,122.2 -57.0,125.5 -61.5,132.0C-65.5,138.0 -68.0,147.0 -69.5,155.5M-69.9,155.0C-70.2,163.0 -71.0,170.0 -71.3,176.5C-71.5,194.0 -66.5,220.0 -69.0,246.3M-35.5,115.4L-26.0,116.2C-11.0,115.0 9.1,102.5 10.3,85.5M-103.0,115.6L-114.5,115.8C-130.0,114.5 -147.0,102.5 -148.2,85.5M89.0,70.3C83.0,72.0 75.0,77.0 71.0,83.5C71.5,89.0 72.5,94.0 75.0,97.5C79.0,101.5 84.0,103.2 89.5,103.2C95.0,103.2 100.0,101.2 103.5,97.0C105.5,93.5 106.3,89.0 106.3,84.0C103.0,77.0 96.0,72.0 89.0,70.3M69.0,81.5C68.5,84.5 69.5,87.0 71.5,88.0C73.0,88.5 74.5,88.2 76.0,87.2M108.5,81.5C109.0,84.5 108.0,87.0 106.0,88.0C104.5,88.5 103.0,88.2 101.5,87.2M77.2,101.5C77.5,106.0 77.8,109.0 76.5,112.5C74.0,118.0 70.0,120.5 65.0,121.6C61.0,122.5 56.0,122.8 52.0,121.8C48.5,120.8 46.0,118.5 45.0,116.0M101.0,101.5C101.0,106.0 101.2,109.0 102.5,112.5C104.5,117.5 109.0,120.0 115.0,121.2C119.0,122.0 123.0,121.8 126.5,120.2C129.0,119.0 130.8,117.8 131.6,116.4M65.0,121.6C71.0,122.5 77.0,126.0 81.5,132.0C85.0,138.0 87.0,147.0 87.8,155.5M115.0,121.2C108.0,122.2 101.0,125.5 96.5,132.0C92.5,138.0 90.0,147.0 88.5,155.5M88.1,155.0C87.8,163.0 87.0,170.0 86.7,176.5C86.5,194.0 91.5,220.0 89.0,246.3M122.5,115.4L132.0,116.2C147.0,115.0 167.1,102.5 168.3,85.5M55.0,115.6L43.5,115.8C28.0,114.5 11.5,102.5 10.3,85.5M250.0,70.3C244.0,72.0 236.0,77.0 232.0,83.5C232.5,89.0 233.5,94.0 236.0,97.5C240.0,101.5 245.0,103.2 250.5,103.2C256.0,103.2 261.0,101.2 264.5,97.0C266.5,93.5 267.3,89.0 267.3,84.0C264.0,77.0 257.0,72.0 250.0,70.3M230.0,81.5C229.5,84.5 230.5,87.0 232.5,88.0C234.0,88.5 235.5,88.2 237.0,87.2M269.5,81.5C270.0,84.5 269.0,87.0 267.0,88.0C265.5,88.5 264.0,88.2 262.5,87.2M238.2,101.5C238.5,106.0 238.8,109.0 237.5,112.5C235.0,118.0 231.0,120.5 226.0,121.6C222.0,122.5 217.0,122.8 213.0,121.8C209.5,120.8 207.0,118.5 206.0,116.0M262.0,101.5C262.0,106.0 262.2,109.0 263.5,112.5C265.5,117.5 270.0,120.0 276.0,121.2C280.0,122.0 284.0,121.8 287.5,120.2C290.0,119.0 291.8,117.8 292.6,116.4M226.0,121.6C232.0,122.5 238.0,126.0 242.5,132.0C246.0,138.0 248.0,147.0 248.8,155.5M276.0,121.2C269.0,122.2 262.0,125.5 257.5,132.0C253.5,138.0 251.0,147.0 249.5,155.5M249.1,155.0C248.8,163.0 248.0,170.0 247.7,176.5C247.5,194.0 252.5,220.0 250.0,246.3M283.5,115.4L293.0,116.2C308.0,115.0 323.6,102.5 324.8,85.5M216.0,115.6L204.5,115.8C189.0,114.5 169.5,102.5 168.3,85.5M408.5,70.3C402.5,72.0 394.5,77.0 390.5,83.5C391.0,89.0 392.0,94.0 394.5,97.5C398.5,101.5 403.5,103.2 409.0,103.2C414.5,103.2 419.5,101.2 423.0,97.0C425.0,93.5 425.8,89.0 425.8,84.0C422.5,77.0 415.5,72.0 408.5,70.3M388.5,81.5C388.0,84.5 389.0,87.0 391.0,88.0C392.5,88.5 394.0,88.2 395.5,87.2M428.0,81.5C428.5,84.5 427.5,87.0 425.5,88.0C424.0,88.5 422.5,88.2 421.0,87.2M396.7,101.5C397.0,106.0 397.3,109.0 396.0,112.5C393.5,118.0 389.5,120.5 384.5,121.6C380.5,122.5 375.5,122.8 371.5,121.8C368.0,120.8 365.5,118.5 364.5,116.0M420.5,101.5C420.5,106.0 420.7,109.0 422.0,112.5C424.0,117.5 428.5,120.0 434.5,121.2C438.5,122.0 442.5,121.8 446.0,120.2C448.5,119.0 450.3,117.8 451.1,116.4M384.5,121.6C390.5,122.5 396.5,126.0 401.0,132.0C404.5,138.0 406.5,147.0 407.3,155.5M434.5,121.2C427.5,122.2 420.5,125.5 416.0,132.0C412.0,138.0 409.5,147.0 408.0,155.5M407.6,155.0C407.3,163.0 406.5,170.0 406.2,176.5C406.0,194.0 411.0,220.0 408.5,246.3M442.0,115.4L451.5,116.2C466.5,115.0 481.6,102.5 482.8,85.5M374.5,115.6L363.0,115.8C347.5,114.5 326.0,102.5 324.8,85.5M567.5,70.3C561.5,72.0 553.5,77.0 549.5,83.5C550.0,89.0 551.0,94.0 553.5,97.5C557.5,101.5 562.5,103.2 568.0,103.2C573.5,103.2 578.5,101.2 582.0,97.0C584.0,93.5 584.8,89.0 584.8,84.0C581.5,77.0 574.5,72.0 567.5,70.3M547.5,81.5C547.0,84.5 548.0,87.0 550.0,88.0C551.5,88.5 553.0,88.2 554.5,87.2M587.0,81.5C587.5,84.5 586.5,87.0 584.5,88.0C583.0,88.5 581.5,88.2 580.0,87.2M555.7,101.5C556.0,106.0 556.3,109.0 555.0,112.5C552.5,118.0 548.5,120.5 543.5,121.6C539.5,122.5 534.5,122.8 530.5,121.8C527.0,120.8 524.5,118.5 523.5,116.0M579.5,101.5C579.5,106.0 579.7,109.0 581.0,112.5C583.0,117.5 587.5,120.0 593.5,121.2C597.5,122.0 601.5,121.8 605.0,120.2C607.5,119.0 609.3,117.8 610.1,116.4M543.5,121.6C549.5,122.5 555.5,126.0 560.0,132.0C563.5,138.0 565.5,147.0 566.3,155.5M593.5,121.2C586.5,122.2 579.5,125.5 575.0,132.0C571.0,138.0 568.5,147.0 567.0,155.5M566.6,155.0C566.3,163.0 565.5,170.0 565.2,176.5C565.0,194.0 570.0,220.0 567.5,246.3M601.0,115.4L610.5,116.2C625.5,115.0 640.1,102.5 641.3,85.5M533.5,115.6L522.0,115.8C506.5,114.5 484.0,102.5 482.8,85.5M723.5,70.3C717.5,72.0 709.5,77.0 705.5,83.5C706.0,89.0 707.0,94.0 709.5,97.5C713.5,101.5 718.5,103.2 724.0,103.2C729.5,103.2 734.5,101.2 738.0,97.0C740.0,93.5 740.8,89.0 740.8,84.0C737.5,77.0 730.5,72.0 723.5,70.3M703.5,81.5C703.0,84.5 704.0,87.0 706.0,88.0C707.5,88.5 709.0,88.2 710.5,87.2M743.0,81.5C743.5,84.5 742.5,87.0 740.5,88.0C739.0,88.5 737.5,88.2 736.0,87.2M711.7,101.5C712.0,106.0 712.3,109.0 711.0,112.5C708.5,118.0 704.5,120.5 699.5,121.6C695.5,122.5 690.5,122.8 686.5,121.8C683.0,120.8 680.5,118.5 679.5,116.0M735.5,101.5C735.5,106.0 735.7,109.0 737.0,112.5C739.0,117.5 743.5,120.0 749.5,121.2C753.5,122.0 757.5,121.8 761.0,120.2C763.5,119.0 765.3,117.8 766.1,116.4M699.5,121.6C705.5,122.5 711.5,126.0 716.0,132.0C719.5,138.0 721.5,147.0 722.3,155.5M749.5,121.2C742.5,122.2 735.5,125.5 731.0,132.0C727.0,138.0 724.5,147.0 723.0,155.5M722.6,155.0C722.3,163.0 721.5,170.0 721.2,176.5C721.0,194.0 726.0,220.0 723.5,246.3M757.0,115.4L766.5,116.2C781.5,115.0 801.1,102.5 802.3,85.5M689.5,115.6L678.0,115.8C662.5,114.5 642.5,102.5 641.3,85.5M882.0,70.3C876.0,72.0 868.0,77.0 864.0,83.5C864.5,89.0 865.5,94.0 868.0,97.5C872.0,101.5 877.0,103.2 882.5,103.2C888.0,103.2 893.0,101.2 896.5,97.0C898.5,93.5 899.3,89.0 899.3,84.0C896.0,77.0 889.0,72.0 882.0,70.3M862.0,81.5C861.5,84.5 862.5,87.0 864.5,88.0C866.0,88.5 867.5,88.2 869.0,87.2M901.5,81.5C902.0,84.5 901.0,87.0 899.0,88.0C897.5,88.5 896.0,88.2 894.5,87.2M870.2,101.5C870.5,106.0 870.8,109.0 869.5,112.5C867.0,118.0 863.0,120.5 858.0,121.6C854.0,122.5 849.0,122.8 845.0,121.8C841.5,120.8 839.0,118.5 838.0,116.0M894.0,101.5C894.0,106.0 894.2,109.0 895.5,112.5C897.5,117.5 902.0,120.0 908.0,121.2C912.0,122.0 916.0,121.8 919.5,120.2C922.0,119.0 923.8,117.8 924.6,116.4M858.0,121.6C864.0,122.5 870.0,126.0 874.5,132.0C878.0,138.0 880.0,147.0 880.8,155.5M908.0,121.2C901.0,122.2 894.0,125.5 889.5,132.0C885.5,138.0 883.0,147.0 881.5,155.5M881.1,155.0C880.8,163.0 880.0,170.0 879.7,176.5C879.5,194.0 884.5,220.0 882.0,246.3M915.5,115.4L925.0,116.2C940.0,115.0 959.6,102.5 960.8,85.5M848.0,115.6L836.5,115.8C821.0,114.5 803.5,102.5 802.3,85.5M-69.0,246.3C-75.0,248.0 -83.0,253.0 -87.0,259.5C-86.5,265.0 -85.5,270.0 -83.0,273.5C-79.0,277.5 -74.0,279.2 -68.5,279.2C-63.0,279.2 -58.0,277.2 -54.5,273.0C-52.5,269.5 -51.7,265.0 -51.7,260.0C-55.0,253.0 -62.0,248.0 -69.0,246.3M-89.0,257.5C-89.5,260.5 -88.5,263.0 -86.5,264.0C-85.0,264.5 -83.5,264.2 -82.0,263.2M-49.5,257.5C-49.0,260.5 -50.0,263.0 -52.0,264.0C-53.5,264.5 -55.0,264.2 -56.5,263.2M-80.8,277.5C-80.5,282.0 -80.2,285.0 -81.5,288.5C-84.0,294.0 -88.0,296.5 -93.0,297.6C-97.0,298.5 -102.0,298.8 -106.0,297.8C-109.5,296.8 -112.0,294.5 -113.0,292.0M-57.0,277.5C-57.0,282.0 -56.8,285.0 -55.5,288.5C-53.5,293.5 -49.0,296.0 -43.0,297.2C-39.0,298.0 -35.0,297.8 -31.5,296.2C-29.0,295.0 -27.2,293.8 -26.4,292.4M-93.0,297.6C-87.0,298.5 -81.0,302.0 -76.5,308.0C-73.0,314.0 -71.0,323.0 -70.2,331.5M-43.0,297.2C-50.0,298.2 -57.0,301.5 -61.5,308.0C-65.5,314.0 -68.0,323.0 -69.5,331.5M-69.9,331.0C-70.2,339.0 -71.0,346.0 -71.3,352.5C-71.5,370.0 -66.5,396.0 -69.0,422.3M-35.5,291.4L-26.0,292.2C-11.0,291.0 9.1,278.0 10.3,261.0M-103.0,291.6L-114.5,291.8C-130.0,290.5 -147.0,278.0 -148.2,261.0M89.0,246.3C83.0,248.0 75.0,253.0 71.0,259.5C71.5,265.0 72.5,270.0 75.0,273.5C79.0,277.5 84.0,279.2 89.5,279.2C95.0,279.2 100.0,277.2 103.5,273.0C105.5,269.5 106.3,265.0 106.3,260.0C103.0,253.0 96.0,248.0 89.0,246.3M69.0,257.5C68.5,260.5 69.5,263.0 71.5,264.0C73.0,264.5 74.5,264.2 76.0,263.2M108.5,257.5C109.0,260.5 108.0,263.0 106.0,264.0C104.5,264.5 103.0,264.2 101.5,263.2M77.2,277.5C77.5,282.0 77.8,285.0 76.5,288.5C74.0,294.0 70.0,296.5 65.0,297.6C61.0,298.5 56.0,298.8 52.0,297.8C48.5,296.8 46.0,294.5 45.0,292.0M101.0,277.5C101.0,282.0 101.2,285.0 102.5,288.5C104.5,293.5 109.0,296.0 115.0,297.2C119.0,298.0 123.0,297.8 126.5,296.2C129.0,295.0 130.8,293.8 131.6,292.4M65.0,297.6C71.0,298.5 77.0,302.0 81.5,308.0C85.0,314.0 87.0,323.0 87.8,331.5M115.0,297.2C108.0,298.2 101.0,301.5 96.5,308.0C92.5,314.0 90.0,323.0 88.5,331.5M88.1,331.0C87.8,339.0 87.0,346.0 86.7,352.5C86.5,370.0 91.5,396.0 89.0,422.3M122.5,291.4L132.0,292.2C147.0,291.0 167.1,278.0 168.3,261.0M55.0,291.6L43.5,291.8C28.0,290.5 11.5,278.0 10.3,261.0M250.0,246.3C244.0,248.0 236.0,253.0 232.0,259.5C232.5,265.0 233.5,270.0 236.0,273.5C240.0,277.5 245.0,279.2 250.5,279.2C256.0,279.2 261.0,277.2 264.5,273.0C266.5,269.5 267.3,265.0 267.3,260.0C264.0,253.0 257.0,248.0 250.0,246.3M230.0,257.5C229.5,260.5 230.5,263.0 232.5,264.0C234.0,264.5 235.5,264.2 237.0,263.2M269.5,257.5C270.0,260.5 269.0,263.0 267.0,264.0C265.5,264.5 264.0,264.2 262.5,263.2M238.2,277.5C238.5,282.0 238.8,285.0 237.5,288.5C235.0,294.0 231.0,296.5 226.0,297.6C222.0,298.5 217.0,298.8 213.0,297.8C209.5,296.8 207.0,294.5 206.0,292.0M262.0,277.5C262.0,282.0 262.2,285.0 263.5,288.5C265.5,293.5 270.0,296.0 276.0,297.2C280.0,298.0 284.0,297.8 287.5,296.2C290.0,295.0 291.8,293.8 292.6,292.4M226.0,297.6C232.0,298.5 238.0,302.0 242.5,308.0C246.0,314.0 248.0,323.0 248.8,331.5M276.0,297.2C269.0,298.2 262.0,301.5 257.5,308.0C253.5,314.0 251.0,323.0 249.5,331.5M249.1,331.0C248.8,339.0 248.0,346.0 247.7,352.5C247.5,370.0 252.5,396.0 250.0,422.3M283.5,291.4L293.0,292.2C308.0,291.0 323.6,278.0 324.8,261.0M216.0,291.6L204.5,291.8C189.0,290.5 169.5,278.0 168.3,261.0M408.5,246.3C402.5,248.0 394.5,253.0 390.5,259.5C391.0,265.0 392.0,270.0 394.5,273.5C398.5,277.5 403.5,279.2 409.0,279.2C414.5,279.2 419.5,277.2 423.0,273.0C425.0,269.5 425.8,265.0 425.8,260.0C422.5,253.0 415.5,248.0 408.5,246.3M388.5,257.5C388.0,260.5 389.0,263.0 391.0,264.0C392.5,264.5 394.0,264.2 395.5,263.2M428.0,257.5C428.5,260.5 427.5,263.0 425.5,264.0C424.0,264.5 422.5,264.2 421.0,263.2M396.7,277.5C397.0,282.0 397.3,285.0 396.0,288.5C393.5,294.0 389.5,296.5 384.5,297.6C380.5,298.5 375.5,298.8 371.5,297.8C368.0,296.8 365.5,294.5 364.5,292.0M420.5,277.5C420.5,282.0 420.7,285.0 422.0,288.5C424.0,293.5 428.5,296.0 434.5,297.2C438.5,298.0 442.5,297.8 446.0,296.2C448.5,295.0 450.3,293.8 451.1,292.4M384.5,297.6C390.5,298.5 396.5,302.0 401.0,308.0C404.5,314.0 406.5,323.0 407.3,331.5M434.5,297.2C427.5,298.2 420.5,301.5 416.0,308.0C412.0,314.0 409.5,323.0 408.0,331.5M407.6,331.0C407.3,339.0 406.5,346.0 406.2,352.5C406.0,370.0 411.0,396.0 408.5,422.3M442.0,291.4L451.5,292.2C466.5,291.0 481.6,278.0 482.8,261.0M374.5,291.6L363.0,291.8C347.5,290.5 326.0,278.0 324.8,261.0M567.5,246.3C561.5,248.0 553.5,253.0 549.5,259.5C550.0,265.0 551.0,270.0 553.5,273.5C557.5,277.5 562.5,279.2 568.0,279.2C573.5,279.2 578.5,277.2 582.0,273.0C584.0,269.5 584.8,265.0 584.8,260.0C581.5,253.0 574.5,248.0 567.5,246.3M547.5,257.5C547.0,260.5 548.0,263.0 550.0,264.0C551.5,264.5 553.0,264.2 554.5,263.2M587.0,257.5C587.5,260.5 586.5,263.0 584.5,264.0C583.0,264.5 581.5,264.2 580.0,263.2M555.7,277.5C556.0,282.0 556.3,285.0 555.0,288.5C552.5,294.0 548.5,296.5 543.5,297.6C539.5,298.5 534.5,298.8 530.5,297.8C527.0,296.8 524.5,294.5 523.5,292.0M579.5,277.5C579.5,282.0 579.7,285.0 581.0,288.5C583.0,293.5 587.5,296.0 593.5,297.2C597.5,298.0 601.5,297.8 605.0,296.2C607.5,295.0 609.3,293.8 610.1,292.4M543.5,297.6C549.5,298.5 555.5,302.0 560.0,308.0C563.5,314.0 565.5,323.0 566.3,331.5M593.5,297.2C586.5,298.2 579.5,301.5 575.0,308.0C571.0,314.0 568.5,323.0 567.0,331.5M566.6,331.0C566.3,339.0 565.5,346.0 565.2,352.5C565.0,370.0 570.0,396.0 567.5,422.3M601.0,291.4L610.5,292.2C625.5,291.0 640.1,278.0 641.3,261.0M533.5,291.6L522.0,291.8C506.5,290.5 484.0,278.0 482.8,261.0M723.5,246.3C717.5,248.0 709.5,253.0 705.5,259.5C706.0,265.0 707.0,270.0 709.5,273.5C713.5,277.5 718.5,279.2 724.0,279.2C729.5,279.2 734.5,277.2 738.0,273.0C740.0,269.5 740.8,265.0 740.8,260.0C737.5,253.0 730.5,248.0 723.5,246.3M703.5,257.5C703.0,260.5 704.0,263.0 706.0,264.0C707.5,264.5 709.0,264.2 710.5,263.2M743.0,257.5C743.5,260.5 742.5,263.0 740.5,264.0C739.0,264.5 737.5,264.2 736.0,263.2M711.7,277.5C712.0,282.0 712.3,285.0 711.0,288.5C708.5,294.0 704.5,296.5 699.5,297.6C695.5,298.5 690.5,298.8 686.5,297.8C683.0,296.8 680.5,294.5 679.5,292.0M735.5,277.5C735.5,282.0 735.7,285.0 737.0,288.5C739.0,293.5 743.5,296.0 749.5,297.2C753.5,298.0 757.5,297.8 761.0,296.2C763.5,295.0 765.3,293.8 766.1,292.4M699.5,297.6C705.5,298.5 711.5,302.0 716.0,308.0C719.5,314.0 721.5,323.0 722.3,331.5M749.5,297.2C742.5,298.2 735.5,301.5 731.0,308.0C727.0,314.0 724.5,323.0 723.0,331.5M722.6,331.0C722.3,339.0 721.5,346.0 721.2,352.5C721.0,370.0 726.0,396.0 723.5,422.3M757.0,291.4L766.5,292.2C781.5,291.0 801.1,278.0 802.3,261.0M689.5,291.6L678.0,291.8C662.5,290.5 642.5,278.0 641.3,261.0M882.0,246.3C876.0,248.0 868.0,253.0 864.0,259.5C864.5,265.0 865.5,270.0 868.0,273.5C872.0,277.5 877.0,279.2 882.5,279.2C888.0,279.2 893.0,277.2 896.5,273.0C898.5,269.5 899.3,265.0 899.3,260.0C896.0,253.0 889.0,248.0 882.0,246.3M862.0,257.5C861.5,260.5 862.5,263.0 864.5,264.0C866.0,264.5 867.5,264.2 869.0,263.2M901.5,257.5C902.0,260.5 901.0,263.0 899.0,264.0C897.5,264.5 896.0,264.2 894.5,263.2M870.2,277.5C870.5,282.0 870.8,285.0 869.5,288.5C867.0,294.0 863.0,296.5 858.0,297.6C854.0,298.5 849.0,298.8 845.0,297.8C841.5,296.8 839.0,294.5 838.0,292.0M894.0,277.5C894.0,282.0 894.2,285.0 895.5,288.5C897.5,293.5 902.0,296.0 908.0,297.2C912.0,298.0 916.0,297.8 919.5,296.2C922.0,295.0 923.8,293.8 924.6,292.4M858.0,297.6C864.0,298.5 870.0,302.0 874.5,308.0C878.0,314.0 880.0,323.0 880.8,331.5M908.0,297.2C901.0,298.2 894.0,301.5 889.5,308.0C885.5,314.0 883.0,323.0 881.5,331.5M881.1,331.0C880.8,339.0 880.0,346.0 879.7,352.5C879.5,370.0 884.5,396.0 882.0,422.3M915.5,291.4L925.0,292.2C940.0,291.0 959.6,278.0 960.8,261.0M848.0,291.6L836.5,291.8C821.0,290.5 803.5,278.0 802.3,261.0M-69.0,422.3C-75.0,424.0 -83.0,429.0 -87.0,435.5C-86.5,441.0 -85.5,446.0 -83.0,449.5C-79.0,453.5 -74.0,455.2 -68.5,455.2C-63.0,455.2 -58.0,453.2 -54.5,449.0C-52.5,445.5 -51.7,441.0 -51.7,436.0C-55.0,429.0 -62.0,424.0 -69.0,422.3M-89.0,433.5C-89.5,436.5 -88.5,439.0 -86.5,440.0C-85.0,440.5 -83.5,440.2 -82.0,439.2M-49.5,433.5C-49.0,436.5 -50.0,439.0 -52.0,440.0C-53.5,440.5 -55.0,440.2 -56.5,439.2M-80.8,453.5C-80.5,458.0 -80.2,461.0 -81.5,464.5C-84.0,470.0 -88.0,472.5 -93.0,473.6C-97.0,474.5 -102.0,474.8 -106.0,473.8C-109.5,472.8 -112.0,470.5 -113.0,468.0M-57.0,453.5C-57.0,458.0 -56.8,461.0 -55.5,464.5C-53.5,469.5 -49.0,472.0 -43.0,473.2C-39.0,474.0 -35.0,473.8 -31.5,472.2C-29.0,471.0 -27.2,469.8 -26.4,468.4M-93.0,473.6C-87.0,474.5 -81.0,478.0 -76.5,484.0C-73.0,490.0 -71.0,499.0 -70.2,507.5M-43.0,473.2C-50.0,474.2 -57.0,477.5 -61.5,484.0C-65.5,490.0 -68.0,499.0 -69.5,507.5M-69.9,507.0C-70.2,515.0 -71.0,522.0 -71.3,528.5C-71.5,546.0 -66.5,570.5 -69.0,596.8M-35.5,467.4L-26.0,468.2C-11.0,467.0 9.1,453.5 10.3,436.5M-103.0,467.6L-114.5,467.8C-130.0,466.5 -147.0,453.5 -148.2,436.5M89.0,422.3C83.0,424.0 75.0,429.0 71.0,435.5C71.5,441.0 72.5,446.0 75.0,449.5C79.0,453.5 84.0,455.2 89.5,455.2C95.0,455.2 100.0,453.2 103.5,449.0C105.5,445.5 106.3,441.0 106.3,436.0C103.0,429.0 96.0,424.0 89.0,422.3M69.0,433.5C68.5,436.5 69.5,439.0 71.5,440.0C73.0,440.5 74.5,440.2 76.0,439.2M108.5,433.5C109.0,436.5 108.0,439.0 106.0,440.0C104.5,440.5 103.0,440.2 101.5,439.2M77.2,453.5C77.5,458.0 77.8,461.0 76.5,464.5C74.0,470.0 70.0,472.5 65.0,473.6C61.0,474.5 56.0,474.8 52.0,473.8C48.5,472.8 46.0,470.5 45.0,468.0M101.0,453.5C101.0,458.0 101.2,461.0 102.5,464.5C104.5,469.5 109.0,472.0 115.0,473.2C119.0,474.0 123.0,473.8 126.5,472.2C129.0,471.0 130.8,469.8 131.6,468.4M65.0,473.6C71.0,474.5 77.0,478.0 81.5,484.0C85.0,490.0 87.0,499.0 87.8,507.5M115.0,473.2C108.0,474.2 101.0,477.5 96.5,484.0C92.5,490.0 90.0,499.0 88.5,507.5M88.1,507.0C87.8,515.0 87.0,522.0 86.7,528.5C86.5,546.0 91.5,570.5 89.0,596.8M122.5,467.4L132.0,468.2C147.0,467.0 167.1,453.5 168.3,436.5M55.0,467.6L43.5,467.8C28.0,466.5 11.5,453.5 10.3,436.5M250.0,422.3C244.0,424.0 236.0,429.0 232.0,435.5C232.5,441.0 233.5,446.0 236.0,449.5C240.0,453.5 245.0,455.2 250.5,455.2C256.0,455.2 261.0,453.2 264.5,449.0C266.5,445.5 267.3,441.0 267.3,436.0C264.0,429.0 257.0,424.0 250.0,422.3M230.0,433.5C229.5,436.5 230.5,439.0 232.5,440.0C234.0,440.5 235.5,440.2 237.0,439.2M269.5,433.5C270.0,436.5 269.0,439.0 267.0,440.0C265.5,440.5 264.0,440.2 262.5,439.2M238.2,453.5C238.5,458.0 238.8,461.0 237.5,464.5C235.0,470.0 231.0,472.5 226.0,473.6C222.0,474.5 217.0,474.8 213.0,473.8C209.5,472.8 207.0,470.5 206.0,468.0M262.0,453.5C262.0,458.0 262.2,461.0 263.5,464.5C265.5,469.5 270.0,472.0 276.0,473.2C280.0,474.0 284.0,473.8 287.5,472.2C290.0,471.0 291.8,469.8 292.6,468.4M226.0,473.6C232.0,474.5 238.0,478.0 242.5,484.0C246.0,490.0 248.0,499.0 248.8,507.5M276.0,473.2C269.0,474.2 262.0,477.5 257.5,484.0C253.5,490.0 251.0,499.0 249.5,507.5M249.1,507.0C248.8,515.0 248.0,522.0 247.7,528.5C247.5,546.0 252.5,570.5 250.0,596.8M283.5,467.4L293.0,468.2C308.0,467.0 323.6,453.5 324.8,436.5M216.0,467.6L204.5,467.8C189.0,466.5 169.5,453.5 168.3,436.5M408.5,422.3C402.5,424.0 394.5,429.0 390.5,435.5C391.0,441.0 392.0,446.0 394.5,449.5C398.5,453.5 403.5,455.2 409.0,455.2C414.5,455.2 419.5,453.2 423.0,449.0C425.0,445.5 425.8,441.0 425.8,436.0C422.5,429.0 415.5,424.0 408.5,422.3M388.5,433.5C388.0,436.5 389.0,439.0 391.0,440.0C392.5,440.5 394.0,440.2 395.5,439.2M428.0,433.5C428.5,436.5 427.5,439.0 425.5,440.0C424.0,440.5 422.5,440.2 421.0,439.2M396.7,453.5C397.0,458.0 397.3,461.0 396.0,464.5C393.5,470.0 389.5,472.5 384.5,473.6C380.5,474.5 375.5,474.8 371.5,473.8C368.0,472.8 365.5,470.5 364.5,468.0M420.5,453.5C420.5,458.0 420.7,461.0 422.0,464.5C424.0,469.5 428.5,472.0 434.5,473.2C438.5,474.0 442.5,473.8 446.0,472.2C448.5,471.0 450.3,469.8 451.1,468.4M384.5,473.6C390.5,474.5 396.5,478.0 401.0,484.0C404.5,490.0 406.5,499.0 407.3,507.5M434.5,473.2C427.5,474.2 420.5,477.5 416.0,484.0C412.0,490.0 409.5,499.0 408.0,507.5M407.6,507.0C407.3,515.0 406.5,522.0 406.2,528.5C406.0,546.0 411.0,570.5 408.5,596.8M442.0,467.4L451.5,468.2C466.5,467.0 481.6,453.5 482.8,436.5M374.5,467.6L363.0,467.8C347.5,466.5 326.0,453.5 324.8,436.5M567.5,422.3C561.5,424.0 553.5,429.0 549.5,435.5C550.0,441.0 551.0,446.0 553.5,449.5C557.5,453.5 562.5,455.2 568.0,455.2C573.5,455.2 578.5,453.2 582.0,449.0C584.0,445.5 584.8,441.0 584.8,436.0C581.5,429.0 574.5,424.0 567.5,422.3M547.5,433.5C547.0,436.5 548.0,439.0 550.0,440.0C551.5,440.5 553.0,440.2 554.5,439.2M587.0,433.5C587.5,436.5 586.5,439.0 584.5,440.0C583.0,440.5 581.5,440.2 580.0,439.2M555.7,453.5C556.0,458.0 556.3,461.0 555.0,464.5C552.5,470.0 548.5,472.5 543.5,473.6C539.5,474.5 534.5,474.8 530.5,473.8C527.0,472.8 524.5,470.5 523.5,468.0M579.5,453.5C579.5,458.0 579.7,461.0 581.0,464.5C583.0,469.5 587.5,472.0 593.5,473.2C597.5,474.0 601.5,473.8 605.0,472.2C607.5,471.0 609.3,469.8 610.1,468.4M543.5,473.6C549.5,474.5 555.5,478.0 560.0,484.0C563.5,490.0 565.5,499.0 566.3,507.5M593.5,473.2C586.5,474.2 579.5,477.5 575.0,484.0C571.0,490.0 568.5,499.0 567.0,507.5M566.6,507.0C566.3,515.0 565.5,522.0 565.2,528.5C565.0,546.0 570.0,570.5 567.5,596.8M601.0,467.4L610.5,468.2C625.5,467.0 640.1,453.5 641.3,436.5M533.5,467.6L522.0,467.8C506.5,466.5 484.0,453.5 482.8,436.5M723.5,422.3C717.5,424.0 709.5,429.0 705.5,435.5C706.0,441.0 707.0,446.0 709.5,449.5C713.5,453.5 718.5,455.2 724.0,455.2C729.5,455.2 734.5,453.2 738.0,449.0C740.0,445.5 740.8,441.0 740.8,436.0C737.5,429.0 730.5,424.0 723.5,422.3M703.5,433.5C703.0,436.5 704.0,439.0 706.0,440.0C707.5,440.5 709.0,440.2 710.5,439.2M743.0,433.5C743.5,436.5 742.5,439.0 740.5,440.0C739.0,440.5 737.5,440.2 736.0,439.2M711.7,453.5C712.0,458.0 712.3,461.0 711.0,464.5C708.5,470.0 704.5,472.5 699.5,473.6C695.5,474.5 690.5,474.8 686.5,473.8C683.0,472.8 680.5,470.5 679.5,468.0M735.5,453.5C735.5,458.0 735.7,461.0 737.0,464.5C739.0,469.5 743.5,472.0 749.5,473.2C753.5,474.0 757.5,473.8 761.0,472.2C763.5,471.0 765.3,469.8 766.1,468.4M699.5,473.6C705.5,474.5 711.5,478.0 716.0,484.0C719.5,490.0 721.5,499.0 722.3,507.5M749.5,473.2C742.5,474.2 735.5,477.5 731.0,484.0C727.0,490.0 724.5,499.0 723.0,507.5M722.6,507.0C722.3,515.0 721.5,522.0 721.2,528.5C721.0,546.0 726.0,570.5 723.5,596.8M757.0,467.4L766.5,468.2C781.5,467.0 801.1,453.5 802.3,436.5M689.5,467.6L678.0,467.8C662.5,466.5 642.5,453.5 641.3,436.5M882.0,422.3C876.0,424.0 868.0,429.0 864.0,435.5C864.5,441.0 865.5,446.0 868.0,449.5C872.0,453.5 877.0,455.2 882.5,455.2C888.0,455.2 893.0,453.2 896.5,449.0C898.5,445.5 899.3,441.0 899.3,436.0C896.0,429.0 889.0,424.0 882.0,422.3M862.0,433.5C861.5,436.5 862.5,439.0 864.5,440.0C866.0,440.5 867.5,440.2 869.0,439.2M901.5,433.5C902.0,436.5 901.0,439.0 899.0,440.0C897.5,440.5 896.0,440.2 894.5,439.2M870.2,453.5C870.5,458.0 870.8,461.0 869.5,464.5C867.0,470.0 863.0,472.5 858.0,473.6C854.0,474.5 849.0,474.8 845.0,473.8C841.5,472.8 839.0,470.5 838.0,468.0M894.0,453.5C894.0,458.0 894.2,461.0 895.5,464.5C897.5,469.5 902.0,472.0 908.0,473.2C912.0,474.0 916.0,473.8 919.5,472.2C922.0,471.0 923.8,469.8 924.6,468.4M858.0,473.6C864.0,474.5 870.0,478.0 874.5,484.0C878.0,490.0 880.0,499.0 880.8,507.5M908.0,473.2C901.0,474.2 894.0,477.5 889.5,484.0C885.5,490.0 883.0,499.0 881.5,507.5M881.1,507.0C880.8,515.0 880.0,522.0 879.7,528.5C879.5,546.0 884.5,570.5 882.0,596.8M915.5,467.4L925.0,468.2C940.0,467.0 959.6,453.5 960.8,436.5M848.0,467.6L836.5,467.8C821.0,466.5 803.5,453.5 802.3,436.5M-69.0,596.8C-75.0,598.5 -83.0,603.5 -87.0,610.0C-86.5,615.5 -85.5,620.5 -83.0,624.0C-79.0,628.0 -74.0,629.7 -68.5,629.7C-63.0,629.7 -58.0,627.7 -54.5,623.5C-52.5,620.0 -51.7,615.5 -51.7,610.5C-55.0,603.5 -62.0,598.5 -69.0,596.8M-89.0,608.0C-89.5,611.0 -88.5,613.5 -86.5,614.5C-85.0,615.0 -83.5,614.7 -82.0,613.7M-49.5,608.0C-49.0,611.0 -50.0,613.5 -52.0,614.5C-53.5,615.0 -55.0,614.7 -56.5,613.7M-80.8,628.0C-80.5,632.5 -80.2,635.5 -81.5,639.0C-84.0,644.5 -88.0,647.0 -93.0,648.1C-97.0,649.0 -102.0,649.3 -106.0,648.3C-109.5,647.3 -112.0,645.0 -113.0,642.5M-57.0,628.0C-57.0,632.5 -56.8,635.5 -55.5,639.0C-53.5,644.0 -49.0,646.5 -43.0,647.7C-39.0,648.5 -35.0,648.3 -31.5,646.7C-29.0,645.5 -27.2,644.3 -26.4,642.9M-93.0,648.1C-87.0,649.0 -81.0,652.5 -76.5,658.5C-73.0,664.5 -71.0,673.5 -70.2,682.0M-43.0,647.7C-50.0,648.7 -57.0,652.0 -61.5,658.5C-65.5,664.5 -68.0,673.5 -69.5,682.0M-69.9,681.5C-70.2,689.5 -71.0,696.5 -71.3,703.0C-71.5,720.5 -66.5,746.0 -69.0,772.3M-35.5,641.9L-26.0,642.7C-11.0,641.5 9.1,629.5 10.3,612.5M-103.0,642.1L-114.5,642.3C-130.0,641.0 -147.0,629.5 -148.2,612.5M89.0,596.8C83.0,598.5 75.0,603.5 71.0,610.0C71.5,615.5 72.5,620.5 75.0,624.0C79.0,628.0 84.0,629.7 89.5,629.7C95.0,629.7 100.0,627.7 103.5,623.5C105.5,620.0 106.3,615.5 106.3,610.5C103.0,603.5 96.0,598.5 89.0,596.8M69.0,608.0C68.5,611.0 69.5,613.5 71.5,614.5C73.0,615.0 74.5,614.7 76.0,613.7M108.5,608.0C109.0,611.0 108.0,613.5 106.0,614.5C104.5,615.0 103.0,614.7 101.5,613.7M77.2,628.0C77.5,632.5 77.8,635.5 76.5,639.0C74.0,644.5 70.0,647.0 65.0,648.1C61.0,649.0 56.0,649.3 52.0,648.3C48.5,647.3 46.0,645.0 45.0,642.5M101.0,628.0C101.0,632.5 101.2,635.5 102.5,639.0C104.5,644.0 109.0,646.5 115.0,647.7C119.0,648.5 123.0,648.3 126.5,646.7C129.0,645.5 130.8,644.3 131.6,642.9M65.0,648.1C71.0,649.0 77.0,652.5 81.5,658.5C85.0,664.5 87.0,673.5 87.8,682.0M115.0,647.7C108.0,648.7 101.0,652.0 96.5,658.5C92.5,664.5 90.0,673.5 88.5,682.0M88.1,681.5C87.8,689.5 87.0,696.5 86.7,703.0C86.5,720.5 91.5,746.0 89.0,772.3M122.5,641.9L132.0,642.7C147.0,641.5 167.1,629.5 168.3,612.5M55.0,642.1L43.5,642.3C28.0,641.0 11.5,629.5 10.3,612.5M250.0,596.8C244.0,598.5 236.0,603.5 232.0,610.0C232.5,615.5 233.5,620.5 236.0,624.0C240.0,628.0 245.0,629.7 250.5,629.7C256.0,629.7 261.0,627.7 264.5,623.5C266.5,620.0 267.3,615.5 267.3,610.5C264.0,603.5 257.0,598.5 250.0,596.8M230.0,608.0C229.5,611.0 230.5,613.5 232.5,614.5C234.0,615.0 235.5,614.7 237.0,613.7M269.5,608.0C270.0,611.0 269.0,613.5 267.0,614.5C265.5,615.0 264.0,614.7 262.5,613.7M238.2,628.0C238.5,632.5 238.8,635.5 237.5,639.0C235.0,644.5 231.0,647.0 226.0,648.1C222.0,649.0 217.0,649.3 213.0,648.3C209.5,647.3 207.0,645.0 206.0,642.5M262.0,628.0C262.0,632.5 262.2,635.5 263.5,639.0C265.5,644.0 270.0,646.5 276.0,647.7C280.0,648.5 284.0,648.3 287.5,646.7C290.0,645.5 291.8,644.3 292.6,642.9M226.0,648.1C232.0,649.0 238.0,652.5 242.5,658.5C246.0,664.5 248.0,673.5 248.8,682.0M276.0,647.7C269.0,648.7 262.0,652.0 257.5,658.5C253.5,664.5 251.0,673.5 249.5,682.0M249.1,681.5C248.8,689.5 248.0,696.5 247.7,703.0C247.5,720.5 252.5,746.0 250.0,772.3M283.5,641.9L293.0,642.7C308.0,641.5 323.6,629.5 324.8,612.5M216.0,642.1L204.5,642.3C189.0,641.0 169.5,629.5 168.3,612.5M408.5,596.8C402.5,598.5 394.5,603.5 390.5,610.0C391.0,615.5 392.0,620.5 394.5,624.0C398.5,628.0 403.5,629.7 409.0,629.7C414.5,629.7 419.5,627.7 423.0,623.5C425.0,620.0 425.8,615.5 425.8,610.5C422.5,603.5 415.5,598.5 408.5,596.8M388.5,608.0C388.0,611.0 389.0,613.5 391.0,614.5C392.5,615.0 394.0,614.7 395.5,613.7M428.0,608.0C428.5,611.0 427.5,613.5 425.5,614.5C424.0,615.0 422.5,614.7 421.0,613.7M396.7,628.0C397.0,632.5 397.3,635.5 396.0,639.0C393.5,644.5 389.5,647.0 384.5,648.1C380.5,649.0 375.5,649.3 371.5,648.3C368.0,647.3 365.5,645.0 364.5,642.5M420.5,628.0C420.5,632.5 420.7,635.5 422.0,639.0C424.0,644.0 428.5,646.5 434.5,647.7C438.5,648.5 442.5,648.3 446.0,646.7C448.5,645.5 450.3,644.3 451.1,642.9M384.5,648.1C390.5,649.0 396.5,652.5 401.0,658.5C404.5,664.5 406.5,673.5 407.3,682.0M434.5,647.7C427.5,648.7 420.5,652.0 416.0,658.5C412.0,664.5 409.5,673.5 408.0,682.0M407.6,681.5C407.3,689.5 406.5,696.5 406.2,703.0C406.0,720.5 411.0,746.0 408.5,772.3M442.0,641.9L451.5,642.7C466.5,641.5 481.6,629.5 482.8,612.5M374.5,642.1L363.0,642.3C347.5,641.0 326.0,629.5 324.8,612.5M567.5,596.8C561.5,598.5 553.5,603.5 549.5,610.0C550.0,615.5 551.0,620.5 553.5,624.0C557.5,628.0 562.5,629.7 568.0,629.7C573.5,629.7 578.5,627.7 582.0,623.5C584.0,620.0 584.8,615.5 584.8,610.5C581.5,603.5 574.5,598.5 567.5,596.8M547.5,608.0C547.0,611.0 548.0,613.5 550.0,614.5C551.5,615.0 553.0,614.7 554.5,613.7M587.0,608.0C587.5,611.0 586.5,613.5 584.5,614.5C583.0,615.0 581.5,614.7 580.0,613.7M555.7,628.0C556.0,632.5 556.3,635.5 555.0,639.0C552.5,644.5 548.5,647.0 543.5,648.1C539.5,649.0 534.5,649.3 530.5,648.3C527.0,647.3 524.5,645.0 523.5,642.5M579.5,628.0C579.5,632.5 579.7,635.5 581.0,639.0C583.0,644.0 587.5,646.5 593.5,647.7C597.5,648.5 601.5,648.3 605.0,646.7C607.5,645.5 609.3,644.3 610.1,642.9M543.5,648.1C549.5,649.0 555.5,652.5 560.0,658.5C563.5,664.5 565.5,673.5 566.3,682.0M593.5,647.7C586.5,648.7 579.5,652.0 575.0,658.5C571.0,664.5 568.5,673.5 567.0,682.0M566.6,681.5C566.3,689.5 565.5,696.5 565.2,703.0C565.0,720.5 570.0,746.0 567.5,772.3M601.0,641.9L610.5,642.7C625.5,641.5 640.1,629.5 641.3,612.5M533.5,642.1L522.0,642.3C506.5,641.0 484.0,629.5 482.8,612.5M723.5,596.8C717.5,598.5 709.5,603.5 705.5,610.0C706.0,615.5 707.0,620.5 709.5,624.0C713.5,628.0 718.5,629.7 724.0,629.7C729.5,629.7 734.5,627.7 738.0,623.5C740.0,620.0 740.8,615.5 740.8,610.5C737.5,603.5 730.5,598.5 723.5,596.8M703.5,608.0C703.0,611.0 704.0,613.5 706.0,614.5C707.5,615.0 709.0,614.7 710.5,613.7M743.0,608.0C743.5,611.0 742.5,613.5 740.5,614.5C739.0,615.0 737.5,614.7 736.0,613.7M711.7,628.0C712.0,632.5 712.3,635.5 711.0,639.0C708.5,644.5 704.5,647.0 699.5,648.1C695.5,649.0 690.5,649.3 686.5,648.3C683.0,647.3 680.5,645.0 679.5,642.5M735.5,628.0C735.5,632.5 735.7,635.5 737.0,639.0C739.0,644.0 743.5,646.5 749.5,647.7C753.5,648.5 757.5,648.3 761.0,646.7C763.5,645.5 765.3,644.3 766.1,642.9M699.5,648.1C705.5,649.0 711.5,652.5 716.0,658.5C719.5,664.5 721.5,673.5 722.3,682.0M749.5,647.7C742.5,648.7 735.5,652.0 731.0,658.5C727.0,664.5 724.5,673.5 723.0,682.0M722.6,681.5C722.3,689.5 721.5,696.5 721.2,703.0C721.0,720.5 726.0,746.0 723.5,772.3M757.0,641.9L766.5,642.7C781.5,641.5 801.1,629.5 802.3,612.5M689.5,642.1L678.0,642.3C662.5,641.0 642.5,629.5 641.3,612.5M882.0,596.8C876.0,598.5 868.0,603.5 864.0,610.0C864.5,615.5 865.5,620.5 868.0,624.0C872.0,628.0 877.0,629.7 882.5,629.7C888.0,629.7 893.0,627.7 896.5,623.5C898.5,620.0 899.3,615.5 899.3,610.5C896.0,603.5 889.0,598.5 882.0,596.8M862.0,608.0C861.5,611.0 862.5,613.5 864.5,614.5C866.0,615.0 867.5,614.7 869.0,613.7M901.5,608.0C902.0,611.0 901.0,613.5 899.0,614.5C897.5,615.0 896.0,614.7 894.5,613.7M870.2,628.0C870.5,632.5 870.8,635.5 869.5,639.0C867.0,644.5 863.0,647.0 858.0,648.1C854.0,649.0 849.0,649.3 845.0,648.3C841.5,647.3 839.0,645.0 838.0,642.5M894.0,628.0C894.0,632.5 894.2,635.5 895.5,639.0C897.5,644.0 902.0,646.5 908.0,647.7C912.0,648.5 916.0,648.3 919.5,646.7C922.0,645.5 923.8,644.3 924.6,642.9M858.0,648.1C864.0,649.0 870.0,652.5 874.5,658.5C878.0,664.5 880.0,673.5 880.8,682.0M908.0,647.7C901.0,648.7 894.0,652.0 889.5,658.5C885.5,664.5 883.0,673.5 881.5,682.0M881.1,681.5C880.8,689.5 880.0,696.5 879.7,703.0C879.5,720.5 884.5,746.0 882.0,772.3M915.5,641.9L925.0,642.7C940.0,641.5 959.6,629.5 960.8,612.5M848.0,642.1L836.5,642.3C821.0,641.0 803.5,629.5 802.3,612.5" fill="none" stroke="#b2b2b2" stroke-width="1.6" stroke-linecap="round" stroke-linejoin="round"/><g fill="#8a8a8a" stroke="#a8a8a8" stroke-width="1.2"><ellipse cx="12.5" cy="30.5" rx="6" ry="8"/><ellipse cx="170.5" cy="30.5" rx="6" ry="8"/><ellipse cx="327.0" cy="30.5" rx="6" ry="8"/><ellipse cx="485.0" cy="30.5" rx="6" ry="8"/><ellipse cx="643.5" cy="30.5" rx="6" ry="8"/><ellipse cx="804.5" cy="30.5" rx="6" ry="8"/><ellipse cx="963.0" cy="30.5" rx="6" ry="8"/><ellipse cx="12.5" cy="206.0" rx="6" ry="8"/><ellipse cx="170.5" cy="206.0" rx="6" ry="8"/><ellipse cx="327.0" cy="206.0" rx="6" ry="8"/><ellipse cx="485.0" cy="206.0" rx="6" ry="8"/><ellipse cx="643.5" cy="206.0" rx="6" ry="8"/><ellipse cx="804.5" cy="206.0" rx="6" ry="8"/><ellipse cx="963.0" cy="206.0" rx="6" ry="8"/><ellipse cx="12.5" cy="381.5" rx="6" ry="8"/><ellipse cx="170.5" cy="381.5" rx="6" ry="8"/><ellipse cx="327.0" cy="381.5" rx="6" ry="8"/><ellipse cx="485.0" cy="381.5" rx="6" ry="8"/><ellipse cx="643.5" cy="381.5" rx="6" ry="8"/><ellipse cx="804.5" cy="381.5" rx="6" ry="8"/><ellipse cx="963.0" cy="381.5" rx="6" ry="8"/><ellipse cx="12.5" cy="557.5" rx="6" ry="8"/><ellipse cx="170.5" cy="557.5" rx="6" ry="8"/><ellipse cx="327.0" cy="557.5" rx="6" ry="8"/><ellipse cx="485.0" cy="557.5" rx="6" ry="8"/><ellipse cx="643.5" cy="557.5" rx="6" ry="8"/><ellipse cx="804.5" cy="557.5" rx="6" ry="8"/><ellipse cx="963.0" cy="557.5" rx="6" ry="8"/><ellipse cx="12.5" cy="733.0" rx="6" ry="8"/><ellipse cx="170.5" cy="733.0" rx="6" ry="8"/><ellipse cx="327.0" cy="733.0" rx="6" ry="8"/><ellipse cx="485.0" cy="733.0" rx="6" ry="8"/><ellipse cx="643.5" cy="733.0" rx="6" ry="8"/><ellipse cx="804.5" cy="733.0" rx="6" ry="8"/><ellipse cx="963.0" cy="733.0" rx="6" ry="8"/><ellipse cx="-69.0" cy="-57.0" rx="6" ry="8"/><ellipse cx="89.0" cy="-57.0" rx="6" ry="8"/><ellipse cx="250.0" cy="-57.0" rx="6" ry="8"/><ellipse cx="408.5" cy="-57.0" rx="6" ry="8"/><ellipse cx="567.5" cy="-57.0" rx="6" ry="8"/><ellipse cx="723.5" cy="-57.0" rx="6" ry="8"/><ellipse cx="882.0" cy="-57.0" rx="6" ry="8"/><ellipse cx="-69.0" cy="119.0" rx="6" ry="8"/><ellipse cx="89.0" cy="119.0" rx="6" ry="8"/><ellipse cx="250.0" cy="119.0" rx="6" ry="8"/><ellipse cx="408.5" cy="119.0" rx="6" ry="8"/><ellipse cx="567.5" cy="119.0" rx="6" ry="8"/><ellipse cx="723.5" cy="119.0" rx="6" ry="8"/><ellipse cx="882.0" cy="119.0" rx="6" ry="8"/><ellipse cx="-69.0" cy="295.0" rx="6" ry="8"/><ellipse cx="89.0" cy="295.0" rx="6" ry="8"/><ellipse cx="250.0" cy="295.0" rx="6" ry="8"/><ellipse cx="408.5" cy="295.0" rx="6" ry="8"/><ellipse cx="567.5" cy="295.0" rx="6" ry="8"/><ellipse cx="723.5" cy="295.0" rx="6" ry="8"/><ellipse cx="882.0" cy="295.0" rx="6" ry="8"/><ellipse cx="-69.0" cy="471.0" rx="6" ry="8"/><ellipse cx="89.0" cy="471.0" rx="6" ry="8"/><ellipse cx="250.0" cy="471.0" rx="6" ry="8"/><ellipse cx="408.5" cy="471.0" rx="6" ry="8"/><ellipse cx="567.5" cy="471.0" rx="6" ry="8"/><ellipse cx="723.5" cy="471.0" rx="6" ry="8"/><ellipse cx="882.0" cy="471.0" rx="6" ry="8"/><ellipse cx="-69.0" cy="645.5" rx="6" ry="8"/><ellipse cx="89.0" cy="645.5" rx="6" ry="8"/><ellipse cx="250.0" cy="645.5" rx="6" ry="8"/><ellipse cx="408.5" cy="645.5" rx="6" ry="8"/><ellipse cx="567.5" cy="645.5" rx="6" ry="8"/><ellipse cx="723.5" cy="645.5" rx="6" ry="8"/><ellipse cx="882.0" cy="645.5" rx="6" ry="8"/></g></g>
<path d="M52.0,427 L52.01,423.16 L54.01,423.13 L56.02,423.09 L58.02,423.05 L60.02,423.00 L62.03,422.93 L64.03,422.87 L66.03,422.79 L68.04,422.70 L70.04,422.61 L72.05,422.50 L74.05,422.39 L76.05,422.27 L78.06,422.14 L80.06,422.00 L82.06,421.86 L84.07,421.70 L86.07,421.53 L88.08,421.35 L90.08,421.17 L92.09,420.97 L94.09,420.76 L96.09,420.55 L98.10,420.32 L100.10,420.08 L102.11,419.84 L104.11,419.58 L106.12,419.31 L108.12,419.03 L110.12,418.74 L112.13,418.43 L114.13,418.12 L116.14,417.80 L118.14,417.46 L120.15,417.12 L122.15,416.76 L124.16,416.39 L126.16,416.01 L128.16,415.62 L130.17,415.22 L132.17,414.81 L134.18,414.39 L136.18,413.95 L138.19,413.51 L140.19,413.05 L142.20,412.58 L144.20,412.10 L146.20,411.61 L148.21,411.11 L150.21,410.60 L152.22,410.07 L154.22,409.53 L156.23,408.99 L158.23,408.43 L160.24,407.85 L162.24,407.26 L164.25,406.66 L166.25,406.04 L168.26,405.40 L170.27,404.75 L172.27,404.07 L174.28,403.38 L176.29,402.67 L178.30,401.93 L180.30,401.17 L182.31,400.39 L184.32,399.58 L186.33,398.75 L188.34,397.89 L190.35,397.00 L192.36,396.09 L194.37,395.15 L196.38,394.17 L198.38,393.17 L200.39,392.14 L202.40,391.07 L204.41,389.96 L206.42,388.83 L208.43,387.66 L210.44,386.46 L212.45,385.22 L214.46,383.95 L216.47,382.65 L218.47,381.32 L220.48,379.96 L222.49,378.57 L224.49,377.15 L226.50,375.70 L228.51,374.22 L230.51,372.72 L232.52,371.18 L234.52,369.62 L236.53,368.04 L238.53,366.43 L240.54,364.79 L242.54,363.13 L244.55,361.45 L246.55,359.74 L248.56,358.00 L250.57,356.22 L252.58,354.39 L254.59,352.50 L256.60,350.56 L258.61,348.55 L260.62,346.45 L262.63,344.28 L264.64,342.01 L266.65,339.65 L268.67,337.17 L270.68,334.59 L272.69,331.88 L274.70,329.04 L276.71,326.07 L278.72,322.97 L280.73,319.74 L282.73,316.38 L284.74,312.89 L286.75,309.29 L288.75,305.56 L290.76,301.71 L292.76,297.75 L294.76,293.68 L296.77,289.50 L298.77,285.21 L300.77,280.82 L302.78,276.33 L304.78,271.77 L306.78,267.16 L308.78,262.51 L310.78,257.84 L312.78,253.17 L314.78,248.52 L316.78,243.92 L318.78,239.37 L320.77,234.90 L322.77,230.52 L324.77,226.26 L326.76,222.14 L328.76,218.14 L330.75,214.26 L332.75,210.51 L334.74,206.87 L336.74,203.34 L338.73,199.91 L340.73,196.59 L342.72,193.36 L344.71,190.23 L346.71,187.18 L348.70,184.22 L350.70,181.33 L352.69,178.52 L354.68,175.77 L356.68,173.09 L358.67,170.48 L360.66,167.94 L362.66,165.48 L364.65,163.09 L366.64,160.79 L368.63,158.57 L370.62,156.44 L372.60,154.39 L374.59,152.45 L376.57,150.60 L378.55,148.85 L380.53,147.20 L382.51,145.66 L384.49,144.23 L386.46,142.91 L388.43,141.70 L390.40,140.60 L392.37,139.60 L394.34,138.70 L396.30,137.90 L398.27,137.19 L400.24,136.58 L402.20,136.06 L404.17,135.62 L406.13,135.27 L408.10,135.00 L410.06,134.81 L412.03,134.70 L414.00,134.67 L415.97,134.70 L417.94,134.81 L419.90,135.00 L421.87,135.27 L423.83,135.62 L425.80,136.06 L427.76,136.58 L429.73,137.19 L431.70,137.90 L433.66,138.70 L435.63,139.60 L437.60,140.60 L439.57,141.70 L441.54,142.91 L443.51,144.23 L445.49,145.66 L447.47,147.20 L449.45,148.85 L451.43,150.60 L453.41,152.45 L455.40,154.39 L457.38,156.44 L459.37,158.57 L461.36,160.79 L463.35,163.09 L465.34,165.48 L467.34,167.94 L469.33,170.48 L471.32,173.09 L473.32,175.77 L475.31,178.52 L477.30,181.33 L479.30,184.22 L481.29,187.18 L483.29,190.23 L485.28,193.36 L487.27,196.59 L489.27,199.91 L491.26,203.34 L493.26,206.87 L495.25,210.51 L497.25,214.26 L499.24,218.14 L501.24,222.14 L503.23,226.26 L505.23,230.52 L507.23,234.90 L509.22,239.37 L511.22,243.92 L513.22,248.52 L515.22,253.17 L517.22,257.84 L519.22,262.51 L521.22,267.16 L523.22,271.77 L525.22,276.33 L527.23,280.82 L529.23,285.21 L531.23,289.50 L533.24,293.68 L535.24,297.75 L537.24,301.71 L539.25,305.56 L541.25,309.29 L543.26,312.89 L545.27,316.38 L547.27,319.74 L549.28,322.97 L551.29,326.07 L553.30,329.04 L555.31,331.88 L557.32,334.59 L559.33,337.17 L561.35,339.65 L563.36,342.01 L565.37,344.28 L567.38,346.45 L569.39,348.55 L571.40,350.56 L573.41,352.50 L575.42,354.39 L577.43,356.22 L579.44,358.00 L581.45,359.74 L583.45,361.45 L585.46,363.13 L587.46,364.79 L589.47,366.43 L591.47,368.04 L593.48,369.62 L595.48,371.18 L597.49,372.72 L599.49,374.22 L601.50,375.70 L603.51,377.15 L605.51,378.57 L607.52,379.96 L609.53,381.32 L611.53,382.65 L613.54,383.95 L615.55,385.22 L617.56,386.46 L619.57,387.66 L621.58,388.83 L623.59,389.96 L625.60,391.07 L627.61,392.14 L629.62,393.17 L631.62,394.17 L633.63,395.15 L635.64,396.09 L637.65,397.00 L639.66,397.89 L641.67,398.75 L643.68,399.58 L645.69,400.39 L647.70,401.17 L649.70,401.93 L651.71,402.67 L653.72,403.38 L655.73,404.07 L657.73,404.75 L659.74,405.40 L661.75,406.04 L663.75,406.66 L665.76,407.26 L667.76,407.85 L669.77,408.43 L671.77,408.99 L673.78,409.53 L675.78,410.07 L677.79,410.60 L679.79,411.11 L681.80,411.61 L683.80,412.10 L685.80,412.58 L687.81,413.05 L689.81,413.51 L691.82,413.95 L693.82,414.39 L695.83,414.81 L697.83,415.22 L699.84,415.62 L701.84,416.01 L703.84,416.39 L705.85,416.76 L707.85,417.12 L709.86,417.46 L711.86,417.80 L713.87,418.12 L715.87,418.43 L717.88,418.74 L719.88,419.03 L721.88,419.31 L723.89,419.58 L725.89,419.84 L727.90,420.08 L729.90,420.32 L730.3,420.36 L730.3,427 Z" fill="url(#g)"/>
<path d="M52.01,423.16 L54.01,423.13 L56.02,423.09 L58.02,423.05 L60.02,423.00 L62.03,422.93 L64.03,422.87 L66.03,422.79 L68.04,422.70 L70.04,422.61 L72.05,422.50 L74.05,422.39 L76.05,422.27 L78.06,422.14 L80.06,422.00 L82.06,421.86 L84.07,421.70 L86.07,421.53 L88.08,421.35 L90.08,421.17 L92.09,420.97 L94.09,420.76 L96.09,420.55 L98.10,420.32 L100.10,420.08 L102.11,419.84 L104.11,419.58 L106.12,419.31 L108.12,419.03 L110.12,418.74 L112.13,418.43 L114.13,418.12 L116.14,417.80 L118.14,417.46 L120.15,417.12 L122.15,416.76 L124.16,416.39 L126.16,416.01 L128.16,415.62 L130.17,415.22 L132.17,414.81 L134.18,414.39 L136.18,413.95 L138.19,413.51 L140.19,413.05 L142.20,412.58 L144.20,412.10 L146.20,411.61 L148.21,411.11 L150.21,410.60 L152.22,410.07 L154.22,409.53 L156.23,408.99 L158.23,408.43 L160.24,407.85 L162.24,407.26 L164.25,406.66 L166.25,406.04 L168.26,405.40 L170.27,404.75 L172.27,404.07 L174.28,403.38 L176.29,402.67 L178.30,401.93 L180.30,401.17 L182.31,400.39 L184.32,399.58 L186.33,398.75 L188.34,397.89 L190.35,397.00 L192.36,396.09 L194.37,395.15 L196.38,394.17 L198.38,393.17 L200.39,392.14 L202.40,391.07 L204.41,389.96 L206.42,388.83 L208.43,387.66 L210.44,386.46 L212.45,385.22 L214.46,383.95 L216.47,382.65 L218.47,381.32 L220.48,379.96 L222.49,378.57 L224.49,377.15 L226.50,375.70 L228.51,374.22 L230.51,372.72 L232.52,371.18 L234.52,369.62 L236.53,368.04 L238.53,366.43 L240.54,364.79 L242.54,363.13 L244.55,361.45 L246.55,359.74 L248.56,358.00 L250.57,356.22 L252.58,354.39 L254.59,352.50 L256.60,350.56 L258.61,348.55 L260.62,346.45 L262.63,344.28 L264.64,342.01 L266.65,339.65 L268.67,337.17 L270.68,334.59 L272.69,331.88 L274.70,329.04 L276.71,326.07 L278.72,322.97 L280.73,319.74 L282.73,316.38 L284.74,312.89 L286.75,309.29 L288.75,305.56 L290.76,301.71 L292.76,297.75 L294.76,293.68 L296.77,289.50 L298.77,285.21 L300.77,280.82 L302.78,276.33 L304.78,271.77 L306.78,267.16 L308.78,262.51 L310.78,257.84 L312.78,253.17 L314.78,248.52 L316.78,243.92 L318.78,239.37 L320.77,234.90 L322.77,230.52 L324.77,226.26 L326.76,222.14 L328.76,218.14 L330.75,214.26 L332.75,210.51 L334.74,206.87 L336.74,203.34 L338.73,199.91 L340.73,196.59 L342.72,193.36 L344.71,190.23 L346.71,187.18 L348.70,184.22 L350.70,181.33 L352.69,178.52 L354.68,175.77 L356.68,173.09 L358.67,170.48 L360.66,167.94 L362.66,165.48 L364.65,163.09 L366.64,160.79 L368.63,158.57 L370.62,156.44 L372.60,154.39 L374.59,152.45 L376.57,150.60 L378.55,148.85 L380.53,147.20 L382.51,145.66 L384.49,144.23 L386.46,142.91 L388.43,141.70 L390.40,140.60 L392.37,139.60 L394.34,138.70 L396.30,137.90 L398.27,137.19 L400.24,136.58 L402.20,136.06 L404.17,135.62 L406.13,135.27 L408.10,135.00 L410.06,134.81 L412.03,134.70 L414.00,134.67 L415.97,134.70 L417.94,134.81 L419.90,135.00 L421.87,135.27 L423.83,135.62 L425.80,136.06 L427.76,136.58 L429.73,137.19 L431.70,137.90 L433.66,138.70 L435.63,139.60 L437.60,140.60 L439.57,141.70 L441.54,142.91 L443.51,144.23 L445.49,145.66 L447.47,147.20 L449.45,148.85 L451.43,150.60 L453.41,152.45 L455.40,154.39 L457.38,156.44 L459.37,158.57 L461.36,160.79 L463.35,163.09 L465.34,165.48 L467.34,167.94 L469.33,170.48 L471.32,173.09 L473.32,175.77 L475.31,178.52 L477.30,181.33 L479.30,184.22 L481.29,187.18 L483.29,190.23 L485.28,193.36 L487.27,196.59 L489.27,199.91 L491.26,203.34 L493.26,206.87 L495.25,210.51 L497.25,214.26 L499.24,218.14 L501.24,222.14 L503.23,226.26 L505.23,230.52 L507.23,234.90 L509.22,239.37 L511.22,243.92 L513.22,248.52 L515.22,253.17 L517.22,257.84 L519.22,262.51 L521.22,267.16 L523.22,271.77 L525.22,276.33 L527.23,280.82 L529.23,285.21 L531.23,289.50 L533.24,293.68 L535.24,297.75 L537.24,301.71 L539.25,305.56 L541.25,309.29 L543.26,312.89 L545.27,316.38 L547.27,319.74 L549.28,322.97 L551.29,326.07 L553.30,329.04 L555.31,331.88 L557.32,334.59 L559.33,337.17 L561.35,339.65 L563.36,342.01 L565.37,344.28 L567.38,346.45 L569.39,348.55 L571.40,350.56 L573.41,352.50 L575.42,354.39 L577.43,356.22 L579.44,358.00 L581.45,359.74 L583.45,361.45 L585.46,363.13 L587.46,364.79 L589.47,366.43 L591.47,368.04 L593.48,369.62 L595.48,371.18 L597.49,372.72 L599.49,374.22 L601.50,375.70 L603.51,377.15 L605.51,378.57 L607.52,379.96 L609.53,381.32 L611.53,382.65 L613.54,383.95 L615.55,385.22 L617.56,386.46 L619.57,387.66 L621.58,388.83 L623.59,389.96 L625.60,391.07 L627.61,392.14 L629.62,393.17 L631.62,394.17 L633.63,395.15 L635.64,396.09 L637.65,397.00 L639.66,397.89 L641.67,398.75 L643.68,399.58 L645.69,400.39 L647.70,401.17 L649.70,401.93 L651.71,402.67 L653.72,403.38 L655.73,404.07 L657.73,404.75 L659.74,405.40 L661.75,406.04 L663.75,406.66 L665.76,407.26 L667.76,407.85 L669.77,408.43 L671.77,408.99 L673.78,409.53 L675.78,410.07 L677.79,410.60 L679.79,411.11 L681.80,411.61 L683.80,412.10 L685.80,412.58 L687.81,413.05 L689.81,413.51 L691.82,413.95 L693.82,414.39 L695.83,414.81 L697.83,415.22 L699.84,415.62 L701.84,416.01 L703.84,416.39 L705.85,416.76 L707.85,417.12 L709.86,417.46 L711.86,417.80 L713.87,418.12 L715.87,418.43 L717.88,418.74 L719.88,419.03 L721.88,419.31 L723.89,419.58 L725.89,419.84 L727.90,420.08 L729.90,420.32 L731.91,420.55 L733.91,420.76 L735.91,420.97 L737.92,421.17 L739.92,421.35 L741.93,421.53 L743.93,421.70 L745.94,421.86 L747.94,422.00 L749.94,422.14 L751.95,422.27 L753.95,422.39 L755.95,422.50 L757.96,422.61 L759.96,422.70 L761.97,422.79 L763.97,422.87 L765.97,422.93 L767.98,423.00 L769.98,423.05 L771.98,423.09" fill="none" stroke="#000" stroke-width="1.7" stroke-linejoin="round"/>
<rect x="52.0" y="426" width="721.8" height="2" fill="#fff"/>
<rect x="79.2" y="427" width="1.7" height="11" fill="#fff"/><rect x="162.7" y="427" width="1.7" height="11" fill="#fff"/><rect x="246.2" y="427" width="1.7" height="11" fill="#fff"/><rect x="329.7" y="427" width="1.7" height="11" fill="#fff"/><rect x="413.2" y="427" width="1.7" height="11" fill="#fff"/><rect x="496.7" y="427" width="1.7" height="11" fill="#fff"/><rect x="580.2" y="427" width="1.7" height="11" fill="#fff"/><rect x="663.7" y="427" width="1.7" height="11" fill="#fff"/><rect x="747.2" y="427" width="1.7" height="11" fill="#fff"/>
<rect x="413" y="135" width="2" height="292" fill="#f3dcdc"/>
<rect x="729.4" y="421.5" width="1.6" height="5.5" fill="#fff"/>
<rect x="34.2" y="576" width="758.7" height="12.2" fill="url(#bar)"/>
<rect x="79.3" y="588" width="1.4" height="9" fill="#f2f2f2"/><rect x="162.8" y="588" width="1.4" height="9" fill="#f2f2f2"/><rect x="246.3" y="588" width="1.4" height="9" fill="#f2f2f2"/><rect x="329.8" y="588" width="1.4" height="9" fill="#f2f2f2"/><rect x="413.3" y="588" width="1.4" height="9" fill="#f2f2f2"/><rect x="496.8" y="588" width="1.4" height="9" fill="#f2f2f2"/><rect x="580.3" y="588" width="1.4" height="9" fill="#f2f2f2"/><rect x="663.8" y="588" width="1.4" height="9" fill="#f2f2f2"/><rect x="747.3" y="588" width="1.4" height="9" fill="#f2f2f2"/>
<path d="M152.4,555.4 L175.6,555.4 L164.0,574.6 Z" fill="#ff2a00" stroke="#161e40" stroke-width="1.3" stroke-linejoin="round"/><path d="M319.4,555.4 L342.6,555.4 L331.0,574.6 Z" fill="#ff2a00" stroke="#161e40" stroke-width="1.3" stroke-linejoin="round"/><path d="M486.4,555.4 L509.6,555.4 L498.0,574.6 Z" fill="#ff2a00" stroke="#161e40" stroke-width="1.3" stroke-linejoin="round"/><path d="M653.4,555.4 L676.6,555.4 L665.0,574.6 Z" fill="#ff2a00" stroke="#161e40" stroke-width="1.3" stroke-linejoin="round"/>
<circle cx="730" cy="581" r="14.3" fill="url(#ball)"/>
<rect x="477.8" y="59.8" width="49.5" height="1.25" fill="#fff"/>
<rect x="490.2" y="668.5" width="103" height="1.25" fill="#fff"/>
</svg>
<div class="t title" style="left:156.2px">Your <span style="letter-spacing:-0.3px;margin-right:3px">calculated</span> <span style="position:relative;left:-2.6px">I</span><span style="position:relative;left:-0.7px">Q</span> <span style="position:relative;left:0.5px">is</span></div>
<div class="t title" style="left:607.4px;letter-spacing:0.6px">138</div>
<div class="t lab" style="left:-2.6px">Very low</div>
<div class="t lab" style="left:221px">Low</div>
<div class="t lab" style="left:369.8px;letter-spacing:-0.9px">Normal</div>
<div class="t lab" style="left:552.8px;letter-spacing:-0.3px">High</div>
<div class="t lab" style="left:712.3px">Mensa level</div>
<div class="n" style="left:40.7px;top:438.5px">60</div><div class="n" style="left:124.2px;top:438.5px">70</div><div class="n" style="left:207.7px;top:438.5px">80</div><div class="n" style="left:291.2px;top:438.5px">90</div><div class="n" style="left:374.7px;top:438.5px">100</div><div class="n" style="left:458.2px;top:438.5px">110</div><div class="n" style="left:541.7px;top:438.5px">120</div><div class="n" style="left:625.2px;top:438.5px">130</div><div class="n" style="left:708.7px;top:438.5px">140</div><div class="n" style="left:40.8px;top:598.0px">60</div><div class="n" style="left:124.3px;top:598.0px">70</div><div class="n" style="left:207.8px;top:598.0px">80</div><div class="n" style="left:291.3px;top:598.0px">90</div><div class="n" style="left:374.8px;top:598.0px">100</div><div class="n" style="left:458.3px;top:598.0px">110</div><div class="n" style="left:541.8px;top:598.0px">120</div><div class="n" style="left:625.3px;top:598.0px">130</div><div class="n" style="left:708.8px;top:598.0px">140</div>
<div class="p" style="left:1.6px;top:217.5px">IQ in the population.</div>
<div class="p" style="right:648px;top:250.6px">underneath the curve indicates</div>
<div class="p" style="right:685px;top:284px">the population with an IQ</div>
<div class="p" style="right:854.5px;top:317px">your own.</div>
<div class="c" style="left:218.4px;top:641px">Calculated on the basis of deviation 15</div>
</body></html>
